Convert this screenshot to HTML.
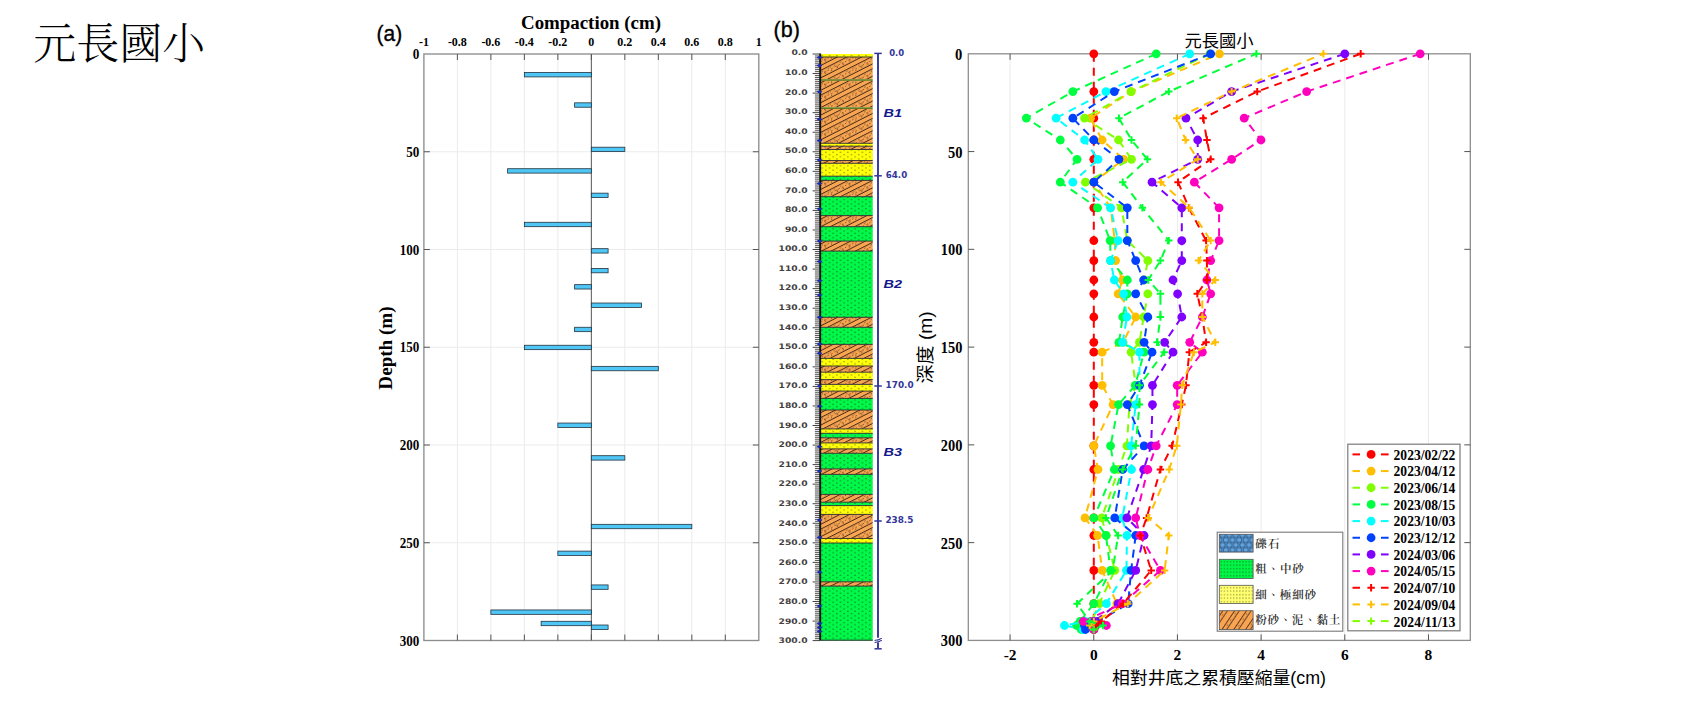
<!DOCTYPE html>
<html><head><meta charset="utf-8"><title>元長國小</title>
<style>
html,body{margin:0;padding:0;background:#fff;width:1701px;height:720px;overflow:hidden}
svg{display:block}
</style></head><body>
<svg width="1701" height="720" viewBox="0 0 1701 720">
<defs>
<pattern id="pG" patternUnits="userSpaceOnUse" width="7.3" height="4.5" x="820.5" y="54">
 <rect width="7.3" height="4.5" fill="#00F848"/>
 <rect x="1.2" y="1.0" width="1.1" height="1.1" fill="#145a26"/>
 <rect x="4.85" y="3.25" width="1.1" height="1.1" fill="#145a26"/>
</pattern>
<pattern id="pY" patternUnits="userSpaceOnUse" width="7.3" height="4.5" x="820.5" y="54">
 <rect width="7.3" height="4.5" fill="#FFFF08"/>
 <rect x="1.2" y="1.0" width="1.1" height="1.1" fill="#6a6a18"/>
 <rect x="4.85" y="3.25" width="1.1" height="1.1" fill="#6a6a18"/>
</pattern>
<pattern id="pO" patternUnits="userSpaceOnUse" width="24.4" height="12.4" x="820.5" y="54" patternTransform="skewY(-27)">
 <rect width="24.4" height="12.4" fill="#F9A653"/>
 <line x1="0" y1="0.6" x2="24.4" y2="0.6" stroke="#3a2010" stroke-width="1"/>
 <line x1="0" y1="8.0" x2="24.4" y2="8.0" stroke="#3a2010" stroke-width="1"/>
 <g fill="#4a2a14">
 <circle cx="2" cy="2.6" r="0.55"/><circle cx="8" cy="2.6" r="0.55"/><circle cx="14" cy="2.6" r="0.55"/><circle cx="20" cy="2.6" r="0.55"/>
 <circle cx="5" cy="5.8" r="0.55"/><circle cx="11" cy="5.8" r="0.55"/><circle cx="17" cy="5.8" r="0.55"/><circle cx="23" cy="5.8" r="0.55"/>
 </g>
 <path d="M4.2 3.2v2M5.4 3.2v2M16.2 3.6v2M17.4 3.6v2M10 1.6v1.6M22 4.2v1.6" stroke="#9a6034" stroke-width="0.6"/>
 <line x1="0" y1="4.3" x2="24.4" y2="4.3" stroke="#5a3418" stroke-width="0.7" stroke-dasharray="1.2 2.4"/>
</pattern>
<pattern id="pLO" patternUnits="userSpaceOnUse" width="20" height="9.8" x="1219" y="610" patternTransform="rotate(-56)">
 <rect width="20" height="9.8" fill="#F8A452"/>
 <line x1="0" y1="0.5" x2="20" y2="0.5" stroke="#3a2010" stroke-width="0.8"/>
 <line x1="0" y1="4.3" x2="20" y2="4.3" stroke="#3a2010" stroke-width="0.8"/>
 <circle cx="3" cy="2.4" r="0.5" fill="#4a2a14"/><circle cx="9" cy="2.4" r="0.5" fill="#4a2a14"/><circle cx="15" cy="2.4" r="0.5" fill="#4a2a14"/>
</pattern>
<pattern id="pLG" patternUnits="userSpaceOnUse" width="3.1" height="3.5" x="1219.8" y="560">
 <rect width="3.1" height="3.5" fill="#00F545"/>
 <rect x="1" y="1.2" width="0.95" height="0.95" fill="#134a1e"/>
</pattern>
<pattern id="pLY" patternUnits="userSpaceOnUse" width="3.1" height="3.5" x="1219.8" y="586">
 <rect width="3.1" height="3.5" fill="#FFFF70"/>
 <rect x="1" y="1.2" width="0.95" height="0.95" fill="#55551a"/>
</pattern>
<pattern id="pLB" patternUnits="userSpaceOnUse" width="6.6" height="10" x="1219.3" y="532.5">
 <rect width="6.6" height="10" fill="#5B9BD5"/>
 <g fill="#62a4de" stroke="#26466e" stroke-width="0.75">
 <circle cx="3.3" cy="2.5" r="2.6"/><circle cx="0" cy="7.5" r="2.6"/><circle cx="6.6" cy="7.5" r="2.6"/>
 <circle cx="3.3" cy="12.5" r="2.6"/><circle cx="0" cy="-2.5" r="2.6"/><circle cx="6.6" cy="-2.5" r="2.6"/>
 </g>
</pattern>
</defs>
<rect width="1701" height="720" fill="#fff"/>
<text x="33.3" y="59.0" font-family="'Liberation Serif', 'Noto Serif CJK TC', 'Noto Serif CJK SC', serif" font-weight="300" font-size="43">元長國小</text>
<line x1="457.39" y1="54.0" x2="457.39" y2="640.5" stroke="#ebebeb" stroke-width="1"/>
<line x1="490.88" y1="54.0" x2="490.88" y2="640.5" stroke="#ebebeb" stroke-width="1"/>
<line x1="524.37" y1="54.0" x2="524.37" y2="640.5" stroke="#ebebeb" stroke-width="1"/>
<line x1="557.86" y1="54.0" x2="557.86" y2="640.5" stroke="#ebebeb" stroke-width="1"/>
<line x1="591.35" y1="54.0" x2="591.35" y2="640.5" stroke="#ebebeb" stroke-width="1"/>
<line x1="624.84" y1="54.0" x2="624.84" y2="640.5" stroke="#ebebeb" stroke-width="1"/>
<line x1="658.33" y1="54.0" x2="658.33" y2="640.5" stroke="#ebebeb" stroke-width="1"/>
<line x1="691.82" y1="54.0" x2="691.82" y2="640.5" stroke="#ebebeb" stroke-width="1"/>
<line x1="725.31" y1="54.0" x2="725.31" y2="640.5" stroke="#ebebeb" stroke-width="1"/>
<line x1="423.9" y1="151.75" x2="758.8" y2="151.75" stroke="#ebebeb" stroke-width="1"/>
<line x1="423.9" y1="249.50" x2="758.8" y2="249.50" stroke="#ebebeb" stroke-width="1"/>
<line x1="423.9" y1="347.25" x2="758.8" y2="347.25" stroke="#ebebeb" stroke-width="1"/>
<line x1="423.9" y1="445.00" x2="758.8" y2="445.00" stroke="#ebebeb" stroke-width="1"/>
<line x1="423.9" y1="542.75" x2="758.8" y2="542.75" stroke="#ebebeb" stroke-width="1"/>
<line x1="591.35" y1="54.0" x2="591.35" y2="640.5" stroke="#5a5a5a" stroke-width="1"/>
<rect x="524.37" y="72.52" width="66.98" height="4.4" fill="#4EC6F6" stroke="#24323c" stroke-width="0.8"/>
<rect x="574.61" y="102.83" width="16.74" height="4.4" fill="#4EC6F6" stroke="#24323c" stroke-width="0.8"/>
<rect x="591.35" y="147.20" width="33.49" height="4.4" fill="#4EC6F6" stroke="#24323c" stroke-width="0.8"/>
<rect x="507.62" y="168.71" width="83.72" height="4.4" fill="#4EC6F6" stroke="#24323c" stroke-width="0.8"/>
<rect x="591.35" y="193.15" width="16.75" height="4.4" fill="#4EC6F6" stroke="#24323c" stroke-width="0.8"/>
<rect x="524.37" y="222.28" width="66.98" height="4.4" fill="#4EC6F6" stroke="#24323c" stroke-width="0.8"/>
<rect x="591.35" y="248.67" width="16.75" height="4.4" fill="#4EC6F6" stroke="#24323c" stroke-width="0.8"/>
<rect x="591.35" y="268.41" width="16.75" height="4.4" fill="#4EC6F6" stroke="#24323c" stroke-width="0.8"/>
<rect x="574.61" y="284.64" width="16.74" height="4.4" fill="#4EC6F6" stroke="#24323c" stroke-width="0.8"/>
<rect x="591.35" y="303.02" width="50.24" height="4.4" fill="#4EC6F6" stroke="#24323c" stroke-width="0.8"/>
<rect x="574.61" y="327.26" width="16.74" height="4.4" fill="#4EC6F6" stroke="#24323c" stroke-width="0.8"/>
<rect x="524.37" y="345.25" width="66.98" height="4.4" fill="#4EC6F6" stroke="#24323c" stroke-width="0.8"/>
<rect x="591.35" y="366.36" width="66.98" height="4.4" fill="#4EC6F6" stroke="#24323c" stroke-width="0.8"/>
<rect x="557.86" y="423.05" width="33.49" height="4.4" fill="#4EC6F6" stroke="#24323c" stroke-width="0.8"/>
<rect x="591.35" y="455.70" width="33.49" height="4.4" fill="#4EC6F6" stroke="#24323c" stroke-width="0.8"/>
<rect x="591.35" y="524.32" width="100.47" height="4.4" fill="#4EC6F6" stroke="#24323c" stroke-width="0.8"/>
<rect x="557.86" y="551.11" width="33.49" height="4.4" fill="#4EC6F6" stroke="#24323c" stroke-width="0.8"/>
<rect x="591.35" y="584.93" width="16.75" height="4.4" fill="#4EC6F6" stroke="#24323c" stroke-width="0.8"/>
<rect x="490.88" y="609.95" width="100.47" height="4.4" fill="#4EC6F6" stroke="#24323c" stroke-width="0.8"/>
<rect x="541.12" y="621.29" width="50.23" height="4.4" fill="#4EC6F6" stroke="#24323c" stroke-width="0.8"/>
<rect x="591.35" y="625.01" width="16.75" height="4.4" fill="#4EC6F6" stroke="#24323c" stroke-width="0.8"/>
<rect x="423.9" y="54.0" width="334.9" height="586.5" fill="none" stroke="#8e8e8e" stroke-width="1.35"/>
<line x1="457.39" y1="54.0" x2="457.39" y2="60.0" stroke="#555555" stroke-width="1"/>
<line x1="457.39" y1="640.5" x2="457.39" y2="634.5" stroke="#555555" stroke-width="1"/>
<line x1="490.88" y1="54.0" x2="490.88" y2="60.0" stroke="#555555" stroke-width="1"/>
<line x1="490.88" y1="640.5" x2="490.88" y2="634.5" stroke="#555555" stroke-width="1"/>
<line x1="524.37" y1="54.0" x2="524.37" y2="60.0" stroke="#555555" stroke-width="1"/>
<line x1="524.37" y1="640.5" x2="524.37" y2="634.5" stroke="#555555" stroke-width="1"/>
<line x1="557.86" y1="54.0" x2="557.86" y2="60.0" stroke="#555555" stroke-width="1"/>
<line x1="557.86" y1="640.5" x2="557.86" y2="634.5" stroke="#555555" stroke-width="1"/>
<line x1="591.35" y1="54.0" x2="591.35" y2="60.0" stroke="#555555" stroke-width="1"/>
<line x1="591.35" y1="640.5" x2="591.35" y2="634.5" stroke="#555555" stroke-width="1"/>
<line x1="624.84" y1="54.0" x2="624.84" y2="60.0" stroke="#555555" stroke-width="1"/>
<line x1="624.84" y1="640.5" x2="624.84" y2="634.5" stroke="#555555" stroke-width="1"/>
<line x1="658.33" y1="54.0" x2="658.33" y2="60.0" stroke="#555555" stroke-width="1"/>
<line x1="658.33" y1="640.5" x2="658.33" y2="634.5" stroke="#555555" stroke-width="1"/>
<line x1="691.82" y1="54.0" x2="691.82" y2="60.0" stroke="#555555" stroke-width="1"/>
<line x1="691.82" y1="640.5" x2="691.82" y2="634.5" stroke="#555555" stroke-width="1"/>
<line x1="725.31" y1="54.0" x2="725.31" y2="60.0" stroke="#555555" stroke-width="1"/>
<line x1="725.31" y1="640.5" x2="725.31" y2="634.5" stroke="#555555" stroke-width="1"/>
<line x1="423.9" y1="151.75" x2="429.9" y2="151.75" stroke="#555555" stroke-width="1"/>
<line x1="758.8" y1="151.75" x2="752.8" y2="151.75" stroke="#555555" stroke-width="1"/>
<line x1="423.9" y1="249.50" x2="429.9" y2="249.50" stroke="#555555" stroke-width="1"/>
<line x1="758.8" y1="249.50" x2="752.8" y2="249.50" stroke="#555555" stroke-width="1"/>
<line x1="423.9" y1="347.25" x2="429.9" y2="347.25" stroke="#555555" stroke-width="1"/>
<line x1="758.8" y1="347.25" x2="752.8" y2="347.25" stroke="#555555" stroke-width="1"/>
<line x1="423.9" y1="445.00" x2="429.9" y2="445.00" stroke="#555555" stroke-width="1"/>
<line x1="758.8" y1="445.00" x2="752.8" y2="445.00" stroke="#555555" stroke-width="1"/>
<line x1="423.9" y1="542.75" x2="429.9" y2="542.75" stroke="#555555" stroke-width="1"/>
<line x1="758.8" y1="542.75" x2="752.8" y2="542.75" stroke="#555555" stroke-width="1"/>
<text x="423.90" y="45.6" text-anchor="middle" font-family="'Liberation Serif', 'Times New Roman', serif" font-weight="bold" font-size="12">-1</text>
<text x="457.39" y="45.6" text-anchor="middle" font-family="'Liberation Serif', 'Times New Roman', serif" font-weight="bold" font-size="12">-0.8</text>
<text x="490.88" y="45.6" text-anchor="middle" font-family="'Liberation Serif', 'Times New Roman', serif" font-weight="bold" font-size="12">-0.6</text>
<text x="524.37" y="45.6" text-anchor="middle" font-family="'Liberation Serif', 'Times New Roman', serif" font-weight="bold" font-size="12">-0.4</text>
<text x="557.86" y="45.6" text-anchor="middle" font-family="'Liberation Serif', 'Times New Roman', serif" font-weight="bold" font-size="12">-0.2</text>
<text x="591.35" y="45.6" text-anchor="middle" font-family="'Liberation Serif', 'Times New Roman', serif" font-weight="bold" font-size="12">0</text>
<text x="624.84" y="45.6" text-anchor="middle" font-family="'Liberation Serif', 'Times New Roman', serif" font-weight="bold" font-size="12">0.2</text>
<text x="658.33" y="45.6" text-anchor="middle" font-family="'Liberation Serif', 'Times New Roman', serif" font-weight="bold" font-size="12">0.4</text>
<text x="691.82" y="45.6" text-anchor="middle" font-family="'Liberation Serif', 'Times New Roman', serif" font-weight="bold" font-size="12">0.6</text>
<text x="725.31" y="45.6" text-anchor="middle" font-family="'Liberation Serif', 'Times New Roman', serif" font-weight="bold" font-size="12">0.8</text>
<text x="758.80" y="45.6" text-anchor="middle" font-family="'Liberation Serif', 'Times New Roman', serif" font-weight="bold" font-size="12">1</text>
<text x="419.3" y="59.10" text-anchor="end" font-family="'Liberation Serif', 'Times New Roman', serif" font-weight="bold" font-size="13.8" textLength="6.6" lengthAdjust="spacingAndGlyphs">0</text>
<text x="419.3" y="156.85" text-anchor="end" font-family="'Liberation Serif', 'Times New Roman', serif" font-weight="bold" font-size="13.8" textLength="13.1" lengthAdjust="spacingAndGlyphs">50</text>
<text x="419.3" y="254.60" text-anchor="end" font-family="'Liberation Serif', 'Times New Roman', serif" font-weight="bold" font-size="13.8" textLength="19.6" lengthAdjust="spacingAndGlyphs">100</text>
<text x="419.3" y="352.35" text-anchor="end" font-family="'Liberation Serif', 'Times New Roman', serif" font-weight="bold" font-size="13.8" textLength="19.6" lengthAdjust="spacingAndGlyphs">150</text>
<text x="419.3" y="450.10" text-anchor="end" font-family="'Liberation Serif', 'Times New Roman', serif" font-weight="bold" font-size="13.8" textLength="19.6" lengthAdjust="spacingAndGlyphs">200</text>
<text x="419.3" y="547.85" text-anchor="end" font-family="'Liberation Serif', 'Times New Roman', serif" font-weight="bold" font-size="13.8" textLength="19.6" lengthAdjust="spacingAndGlyphs">250</text>
<text x="419.3" y="645.60" text-anchor="end" font-family="'Liberation Serif', 'Times New Roman', serif" font-weight="bold" font-size="13.8" textLength="19.6" lengthAdjust="spacingAndGlyphs">300</text>
<text x="591" y="28.9" text-anchor="middle" font-family="'Liberation Serif', 'Times New Roman', serif" font-weight="bold" font-size="18" textLength="140" lengthAdjust="spacingAndGlyphs">Compaction (cm)</text>
<text transform="translate(392.2,348) rotate(-90)" text-anchor="middle" font-family="'Liberation Serif', 'Times New Roman', serif" font-weight="bold" font-size="18" textLength="83.3" lengthAdjust="spacingAndGlyphs">Depth (m)</text>
<text x="376.6" y="40.7" font-family="'Liberation Sans', Arial, sans-serif" font-size="22" textLength="25.6" lengthAdjust="spacingAndGlyphs" stroke="#000" stroke-width="0.35">(a)</text>
<rect x="820.5" y="54.00" width="52.20" height="3.00" fill="url(#pY)"/>
<rect x="820.5" y="57.00" width="52.20" height="22.20" fill="url(#pO)"/>
<rect x="820.5" y="79.20" width="52.20" height="1.70" fill="#627d1f"/>
<rect x="820.5" y="80.90" width="52.20" height="26.40" fill="url(#pO)"/>
<rect x="820.5" y="107.30" width="52.20" height="1.70" fill="#627d1f"/>
<rect x="820.5" y="109.00" width="52.20" height="34.30" fill="url(#pO)"/>
<rect x="820.5" y="143.30" width="52.20" height="2.90" fill="url(#pY)"/>
<rect x="820.5" y="146.20" width="52.20" height="3.30" fill="url(#pO)"/>
<rect x="820.5" y="149.50" width="52.20" height="11.00" fill="url(#pY)"/>
<rect x="820.5" y="160.50" width="52.20" height="2.80" fill="url(#pO)"/>
<rect x="820.5" y="163.30" width="52.20" height="12.90" fill="url(#pY)"/>
<rect x="820.5" y="176.20" width="52.20" height="4.20" fill="url(#pG)"/>
<rect x="820.5" y="180.40" width="52.20" height="16.30" fill="url(#pO)"/>
<rect x="820.5" y="196.70" width="52.20" height="18.90" fill="url(#pG)"/>
<rect x="820.5" y="215.60" width="52.20" height="11.10" fill="url(#pO)"/>
<rect x="820.5" y="226.70" width="52.20" height="14.40" fill="url(#pG)"/>
<rect x="820.5" y="241.10" width="52.20" height="10.00" fill="url(#pO)"/>
<rect x="820.5" y="251.10" width="52.20" height="66.20" fill="url(#pG)"/>
<rect x="820.5" y="317.30" width="52.20" height="10.00" fill="url(#pO)"/>
<rect x="820.5" y="327.30" width="52.20" height="17.10" fill="url(#pG)"/>
<rect x="820.5" y="344.40" width="52.20" height="14.00" fill="url(#pO)"/>
<rect x="820.5" y="358.40" width="52.20" height="7.60" fill="url(#pY)"/>
<rect x="820.5" y="366.00" width="52.20" height="6.20" fill="url(#pO)"/>
<rect x="820.5" y="372.20" width="52.20" height="7.40" fill="url(#pY)"/>
<rect x="820.5" y="379.60" width="52.20" height="4.80" fill="url(#pO)"/>
<rect x="820.5" y="384.40" width="52.20" height="6.70" fill="url(#pY)"/>
<rect x="820.5" y="391.10" width="52.20" height="7.30" fill="url(#pO)"/>
<rect x="820.5" y="398.40" width="52.20" height="11.60" fill="url(#pG)"/>
<rect x="820.5" y="410.00" width="52.20" height="18.90" fill="url(#pO)"/>
<rect x="820.5" y="428.90" width="52.20" height="4.40" fill="url(#pY)"/>
<rect x="820.5" y="433.30" width="52.20" height="4.50" fill="url(#pG)"/>
<rect x="820.5" y="437.80" width="52.20" height="5.10" fill="url(#pO)"/>
<rect x="820.5" y="442.90" width="52.20" height="6.00" fill="url(#pY)"/>
<rect x="820.5" y="448.90" width="52.20" height="4.40" fill="url(#pO)"/>
<rect x="820.5" y="453.30" width="52.20" height="15.60" fill="url(#pG)"/>
<rect x="820.5" y="468.90" width="52.20" height="5.50" fill="url(#pO)"/>
<rect x="820.5" y="474.40" width="52.20" height="20.00" fill="url(#pG)"/>
<rect x="820.5" y="494.40" width="52.20" height="7.80" fill="url(#pO)"/>
<rect x="820.5" y="502.20" width="52.20" height="3.40" fill="url(#pG)"/>
<rect x="820.5" y="505.60" width="52.20" height="8.80" fill="url(#pY)"/>
<rect x="820.5" y="514.40" width="52.20" height="24.10" fill="url(#pO)"/>
<rect x="820.5" y="538.50" width="52.20" height="4.50" fill="url(#pY)"/>
<rect x="820.5" y="543.00" width="52.20" height="38.80" fill="url(#pG)"/>
<rect x="820.5" y="581.80" width="52.20" height="4.30" fill="url(#pO)"/>
<rect x="820.5" y="586.10" width="52.20" height="54.50" fill="url(#pG)"/>
<line x1="820.5" y1="57.00" x2="872.7" y2="57.00" stroke="#2a2a2a" stroke-width="0.9"/>
<line x1="820.5" y1="143.30" x2="872.7" y2="143.30" stroke="#2a2a2a" stroke-width="0.9"/>
<line x1="820.5" y1="146.20" x2="872.7" y2="146.20" stroke="#2a2a2a" stroke-width="0.9"/>
<line x1="820.5" y1="149.50" x2="872.7" y2="149.50" stroke="#2a2a2a" stroke-width="0.9"/>
<line x1="820.5" y1="160.50" x2="872.7" y2="160.50" stroke="#2a2a2a" stroke-width="0.9"/>
<line x1="820.5" y1="163.30" x2="872.7" y2="163.30" stroke="#2a2a2a" stroke-width="0.9"/>
<line x1="820.5" y1="176.20" x2="872.7" y2="176.20" stroke="#2a2a2a" stroke-width="0.9"/>
<line x1="820.5" y1="180.40" x2="872.7" y2="180.40" stroke="#2a2a2a" stroke-width="0.9"/>
<line x1="820.5" y1="196.70" x2="872.7" y2="196.70" stroke="#2a2a2a" stroke-width="0.9"/>
<line x1="820.5" y1="215.60" x2="872.7" y2="215.60" stroke="#2a2a2a" stroke-width="0.9"/>
<line x1="820.5" y1="226.70" x2="872.7" y2="226.70" stroke="#2a2a2a" stroke-width="0.9"/>
<line x1="820.5" y1="241.10" x2="872.7" y2="241.10" stroke="#2a2a2a" stroke-width="0.9"/>
<line x1="820.5" y1="251.10" x2="872.7" y2="251.10" stroke="#2a2a2a" stroke-width="0.9"/>
<line x1="820.5" y1="317.30" x2="872.7" y2="317.30" stroke="#2a2a2a" stroke-width="0.9"/>
<line x1="820.5" y1="327.30" x2="872.7" y2="327.30" stroke="#2a2a2a" stroke-width="0.9"/>
<line x1="820.5" y1="344.40" x2="872.7" y2="344.40" stroke="#2a2a2a" stroke-width="0.9"/>
<line x1="820.5" y1="358.40" x2="872.7" y2="358.40" stroke="#2a2a2a" stroke-width="0.9"/>
<line x1="820.5" y1="366.00" x2="872.7" y2="366.00" stroke="#2a2a2a" stroke-width="0.9"/>
<line x1="820.5" y1="372.20" x2="872.7" y2="372.20" stroke="#2a2a2a" stroke-width="0.9"/>
<line x1="820.5" y1="379.60" x2="872.7" y2="379.60" stroke="#2a2a2a" stroke-width="0.9"/>
<line x1="820.5" y1="384.40" x2="872.7" y2="384.40" stroke="#2a2a2a" stroke-width="0.9"/>
<line x1="820.5" y1="391.10" x2="872.7" y2="391.10" stroke="#2a2a2a" stroke-width="0.9"/>
<line x1="820.5" y1="398.40" x2="872.7" y2="398.40" stroke="#2a2a2a" stroke-width="0.9"/>
<line x1="820.5" y1="410.00" x2="872.7" y2="410.00" stroke="#2a2a2a" stroke-width="0.9"/>
<line x1="820.5" y1="428.90" x2="872.7" y2="428.90" stroke="#2a2a2a" stroke-width="0.9"/>
<line x1="820.5" y1="433.30" x2="872.7" y2="433.30" stroke="#2a2a2a" stroke-width="0.9"/>
<line x1="820.5" y1="437.80" x2="872.7" y2="437.80" stroke="#2a2a2a" stroke-width="0.9"/>
<line x1="820.5" y1="442.90" x2="872.7" y2="442.90" stroke="#2a2a2a" stroke-width="0.9"/>
<line x1="820.5" y1="448.90" x2="872.7" y2="448.90" stroke="#2a2a2a" stroke-width="0.9"/>
<line x1="820.5" y1="453.30" x2="872.7" y2="453.30" stroke="#2a2a2a" stroke-width="0.9"/>
<line x1="820.5" y1="468.90" x2="872.7" y2="468.90" stroke="#2a2a2a" stroke-width="0.9"/>
<line x1="820.5" y1="474.40" x2="872.7" y2="474.40" stroke="#2a2a2a" stroke-width="0.9"/>
<line x1="820.5" y1="494.40" x2="872.7" y2="494.40" stroke="#2a2a2a" stroke-width="0.9"/>
<line x1="820.5" y1="502.20" x2="872.7" y2="502.20" stroke="#2a2a2a" stroke-width="0.9"/>
<line x1="820.5" y1="505.60" x2="872.7" y2="505.60" stroke="#2a2a2a" stroke-width="0.9"/>
<line x1="820.5" y1="514.40" x2="872.7" y2="514.40" stroke="#2a2a2a" stroke-width="0.9"/>
<line x1="820.5" y1="538.50" x2="872.7" y2="538.50" stroke="#2a2a2a" stroke-width="0.9"/>
<line x1="820.5" y1="543.00" x2="872.7" y2="543.00" stroke="#2a2a2a" stroke-width="0.9"/>
<line x1="820.5" y1="581.80" x2="872.7" y2="581.80" stroke="#2a2a2a" stroke-width="0.9"/>
<line x1="820.5" y1="586.10" x2="872.7" y2="586.10" stroke="#2a2a2a" stroke-width="0.9"/>
<line x1="820.5" y1="640.2" x2="872.7" y2="640.2" stroke="#2a2a2a" stroke-width="1"/>
<line x1="812.6" y1="54.00" x2="820" y2="54.00" stroke="#444" stroke-width="1"/>
<line x1="814.9" y1="55.96" x2="820" y2="55.96" stroke="#5e5e5e" stroke-width="1.1"/>
<line x1="814.9" y1="57.91" x2="820" y2="57.91" stroke="#5e5e5e" stroke-width="1.1"/>
<line x1="814.9" y1="59.87" x2="820" y2="59.87" stroke="#5e5e5e" stroke-width="1.1"/>
<line x1="814.9" y1="61.82" x2="820" y2="61.82" stroke="#5e5e5e" stroke-width="1.1"/>
<line x1="814.9" y1="63.78" x2="820" y2="63.78" stroke="#5e5e5e" stroke-width="1.1"/>
<line x1="814.9" y1="65.73" x2="820" y2="65.73" stroke="#5e5e5e" stroke-width="1.1"/>
<line x1="814.9" y1="67.69" x2="820" y2="67.69" stroke="#5e5e5e" stroke-width="1.1"/>
<line x1="814.9" y1="69.64" x2="820" y2="69.64" stroke="#5e5e5e" stroke-width="1.1"/>
<line x1="814.9" y1="71.60" x2="820" y2="71.60" stroke="#5e5e5e" stroke-width="1.1"/>
<line x1="812.6" y1="73.55" x2="820" y2="73.55" stroke="#444" stroke-width="1"/>
<line x1="814.9" y1="75.51" x2="820" y2="75.51" stroke="#5e5e5e" stroke-width="1.1"/>
<line x1="814.9" y1="77.46" x2="820" y2="77.46" stroke="#5e5e5e" stroke-width="1.1"/>
<line x1="814.9" y1="79.42" x2="820" y2="79.42" stroke="#5e5e5e" stroke-width="1.1"/>
<line x1="814.9" y1="81.37" x2="820" y2="81.37" stroke="#5e5e5e" stroke-width="1.1"/>
<line x1="814.9" y1="83.33" x2="820" y2="83.33" stroke="#5e5e5e" stroke-width="1.1"/>
<line x1="814.9" y1="85.29" x2="820" y2="85.29" stroke="#5e5e5e" stroke-width="1.1"/>
<line x1="814.9" y1="87.24" x2="820" y2="87.24" stroke="#5e5e5e" stroke-width="1.1"/>
<line x1="814.9" y1="89.20" x2="820" y2="89.20" stroke="#5e5e5e" stroke-width="1.1"/>
<line x1="814.9" y1="91.15" x2="820" y2="91.15" stroke="#5e5e5e" stroke-width="1.1"/>
<line x1="812.6" y1="93.11" x2="820" y2="93.11" stroke="#444" stroke-width="1"/>
<line x1="814.9" y1="95.06" x2="820" y2="95.06" stroke="#5e5e5e" stroke-width="1.1"/>
<line x1="814.9" y1="97.02" x2="820" y2="97.02" stroke="#5e5e5e" stroke-width="1.1"/>
<line x1="814.9" y1="98.97" x2="820" y2="98.97" stroke="#5e5e5e" stroke-width="1.1"/>
<line x1="814.9" y1="100.93" x2="820" y2="100.93" stroke="#5e5e5e" stroke-width="1.1"/>
<line x1="814.9" y1="102.88" x2="820" y2="102.88" stroke="#5e5e5e" stroke-width="1.1"/>
<line x1="814.9" y1="104.84" x2="820" y2="104.84" stroke="#5e5e5e" stroke-width="1.1"/>
<line x1="814.9" y1="106.79" x2="820" y2="106.79" stroke="#5e5e5e" stroke-width="1.1"/>
<line x1="814.9" y1="108.75" x2="820" y2="108.75" stroke="#5e5e5e" stroke-width="1.1"/>
<line x1="814.9" y1="110.70" x2="820" y2="110.70" stroke="#5e5e5e" stroke-width="1.1"/>
<line x1="812.6" y1="112.66" x2="820" y2="112.66" stroke="#444" stroke-width="1"/>
<line x1="814.9" y1="114.62" x2="820" y2="114.62" stroke="#5e5e5e" stroke-width="1.1"/>
<line x1="814.9" y1="116.57" x2="820" y2="116.57" stroke="#5e5e5e" stroke-width="1.1"/>
<line x1="814.9" y1="118.53" x2="820" y2="118.53" stroke="#5e5e5e" stroke-width="1.1"/>
<line x1="814.9" y1="120.48" x2="820" y2="120.48" stroke="#5e5e5e" stroke-width="1.1"/>
<line x1="814.9" y1="122.44" x2="820" y2="122.44" stroke="#5e5e5e" stroke-width="1.1"/>
<line x1="814.9" y1="124.39" x2="820" y2="124.39" stroke="#5e5e5e" stroke-width="1.1"/>
<line x1="814.9" y1="126.35" x2="820" y2="126.35" stroke="#5e5e5e" stroke-width="1.1"/>
<line x1="814.9" y1="128.30" x2="820" y2="128.30" stroke="#5e5e5e" stroke-width="1.1"/>
<line x1="814.9" y1="130.26" x2="820" y2="130.26" stroke="#5e5e5e" stroke-width="1.1"/>
<line x1="812.6" y1="132.21" x2="820" y2="132.21" stroke="#444" stroke-width="1"/>
<line x1="814.9" y1="134.17" x2="820" y2="134.17" stroke="#5e5e5e" stroke-width="1.1"/>
<line x1="814.9" y1="136.12" x2="820" y2="136.12" stroke="#5e5e5e" stroke-width="1.1"/>
<line x1="814.9" y1="138.08" x2="820" y2="138.08" stroke="#5e5e5e" stroke-width="1.1"/>
<line x1="814.9" y1="140.03" x2="820" y2="140.03" stroke="#5e5e5e" stroke-width="1.1"/>
<line x1="814.9" y1="141.99" x2="820" y2="141.99" stroke="#5e5e5e" stroke-width="1.1"/>
<line x1="814.9" y1="143.95" x2="820" y2="143.95" stroke="#5e5e5e" stroke-width="1.1"/>
<line x1="814.9" y1="145.90" x2="820" y2="145.90" stroke="#5e5e5e" stroke-width="1.1"/>
<line x1="814.9" y1="147.86" x2="820" y2="147.86" stroke="#5e5e5e" stroke-width="1.1"/>
<line x1="814.9" y1="149.81" x2="820" y2="149.81" stroke="#5e5e5e" stroke-width="1.1"/>
<line x1="812.6" y1="151.77" x2="820" y2="151.77" stroke="#444" stroke-width="1"/>
<line x1="814.9" y1="153.72" x2="820" y2="153.72" stroke="#5e5e5e" stroke-width="1.1"/>
<line x1="814.9" y1="155.68" x2="820" y2="155.68" stroke="#5e5e5e" stroke-width="1.1"/>
<line x1="814.9" y1="157.63" x2="820" y2="157.63" stroke="#5e5e5e" stroke-width="1.1"/>
<line x1="814.9" y1="159.59" x2="820" y2="159.59" stroke="#5e5e5e" stroke-width="1.1"/>
<line x1="814.9" y1="161.54" x2="820" y2="161.54" stroke="#5e5e5e" stroke-width="1.1"/>
<line x1="814.9" y1="163.50" x2="820" y2="163.50" stroke="#5e5e5e" stroke-width="1.1"/>
<line x1="814.9" y1="165.45" x2="820" y2="165.45" stroke="#5e5e5e" stroke-width="1.1"/>
<line x1="814.9" y1="167.41" x2="820" y2="167.41" stroke="#5e5e5e" stroke-width="1.1"/>
<line x1="814.9" y1="169.36" x2="820" y2="169.36" stroke="#5e5e5e" stroke-width="1.1"/>
<line x1="812.6" y1="171.32" x2="820" y2="171.32" stroke="#444" stroke-width="1"/>
<line x1="814.9" y1="173.28" x2="820" y2="173.28" stroke="#5e5e5e" stroke-width="1.1"/>
<line x1="814.9" y1="175.23" x2="820" y2="175.23" stroke="#5e5e5e" stroke-width="1.1"/>
<line x1="814.9" y1="177.19" x2="820" y2="177.19" stroke="#5e5e5e" stroke-width="1.1"/>
<line x1="814.9" y1="179.14" x2="820" y2="179.14" stroke="#5e5e5e" stroke-width="1.1"/>
<line x1="814.9" y1="181.10" x2="820" y2="181.10" stroke="#5e5e5e" stroke-width="1.1"/>
<line x1="814.9" y1="183.05" x2="820" y2="183.05" stroke="#5e5e5e" stroke-width="1.1"/>
<line x1="814.9" y1="185.01" x2="820" y2="185.01" stroke="#5e5e5e" stroke-width="1.1"/>
<line x1="814.9" y1="186.96" x2="820" y2="186.96" stroke="#5e5e5e" stroke-width="1.1"/>
<line x1="814.9" y1="188.92" x2="820" y2="188.92" stroke="#5e5e5e" stroke-width="1.1"/>
<line x1="812.6" y1="190.87" x2="820" y2="190.87" stroke="#444" stroke-width="1"/>
<line x1="814.9" y1="192.83" x2="820" y2="192.83" stroke="#5e5e5e" stroke-width="1.1"/>
<line x1="814.9" y1="194.78" x2="820" y2="194.78" stroke="#5e5e5e" stroke-width="1.1"/>
<line x1="814.9" y1="196.74" x2="820" y2="196.74" stroke="#5e5e5e" stroke-width="1.1"/>
<line x1="814.9" y1="198.69" x2="820" y2="198.69" stroke="#5e5e5e" stroke-width="1.1"/>
<line x1="814.9" y1="200.65" x2="820" y2="200.65" stroke="#5e5e5e" stroke-width="1.1"/>
<line x1="814.9" y1="202.61" x2="820" y2="202.61" stroke="#5e5e5e" stroke-width="1.1"/>
<line x1="814.9" y1="204.56" x2="820" y2="204.56" stroke="#5e5e5e" stroke-width="1.1"/>
<line x1="814.9" y1="206.52" x2="820" y2="206.52" stroke="#5e5e5e" stroke-width="1.1"/>
<line x1="814.9" y1="208.47" x2="820" y2="208.47" stroke="#5e5e5e" stroke-width="1.1"/>
<line x1="812.6" y1="210.43" x2="820" y2="210.43" stroke="#444" stroke-width="1"/>
<line x1="814.9" y1="212.38" x2="820" y2="212.38" stroke="#5e5e5e" stroke-width="1.1"/>
<line x1="814.9" y1="214.34" x2="820" y2="214.34" stroke="#5e5e5e" stroke-width="1.1"/>
<line x1="814.9" y1="216.29" x2="820" y2="216.29" stroke="#5e5e5e" stroke-width="1.1"/>
<line x1="814.9" y1="218.25" x2="820" y2="218.25" stroke="#5e5e5e" stroke-width="1.1"/>
<line x1="814.9" y1="220.20" x2="820" y2="220.20" stroke="#5e5e5e" stroke-width="1.1"/>
<line x1="814.9" y1="222.16" x2="820" y2="222.16" stroke="#5e5e5e" stroke-width="1.1"/>
<line x1="814.9" y1="224.11" x2="820" y2="224.11" stroke="#5e5e5e" stroke-width="1.1"/>
<line x1="814.9" y1="226.07" x2="820" y2="226.07" stroke="#5e5e5e" stroke-width="1.1"/>
<line x1="814.9" y1="228.02" x2="820" y2="228.02" stroke="#5e5e5e" stroke-width="1.1"/>
<line x1="812.6" y1="229.98" x2="820" y2="229.98" stroke="#444" stroke-width="1"/>
<line x1="814.9" y1="231.94" x2="820" y2="231.94" stroke="#5e5e5e" stroke-width="1.1"/>
<line x1="814.9" y1="233.89" x2="820" y2="233.89" stroke="#5e5e5e" stroke-width="1.1"/>
<line x1="814.9" y1="235.85" x2="820" y2="235.85" stroke="#5e5e5e" stroke-width="1.1"/>
<line x1="814.9" y1="237.80" x2="820" y2="237.80" stroke="#5e5e5e" stroke-width="1.1"/>
<line x1="814.9" y1="239.76" x2="820" y2="239.76" stroke="#5e5e5e" stroke-width="1.1"/>
<line x1="814.9" y1="241.71" x2="820" y2="241.71" stroke="#5e5e5e" stroke-width="1.1"/>
<line x1="814.9" y1="243.67" x2="820" y2="243.67" stroke="#5e5e5e" stroke-width="1.1"/>
<line x1="814.9" y1="245.62" x2="820" y2="245.62" stroke="#5e5e5e" stroke-width="1.1"/>
<line x1="814.9" y1="247.58" x2="820" y2="247.58" stroke="#5e5e5e" stroke-width="1.1"/>
<line x1="812.6" y1="249.53" x2="820" y2="249.53" stroke="#444" stroke-width="1"/>
<line x1="814.9" y1="251.49" x2="820" y2="251.49" stroke="#5e5e5e" stroke-width="1.1"/>
<line x1="814.9" y1="253.44" x2="820" y2="253.44" stroke="#5e5e5e" stroke-width="1.1"/>
<line x1="814.9" y1="255.40" x2="820" y2="255.40" stroke="#5e5e5e" stroke-width="1.1"/>
<line x1="814.9" y1="257.35" x2="820" y2="257.35" stroke="#5e5e5e" stroke-width="1.1"/>
<line x1="814.9" y1="259.31" x2="820" y2="259.31" stroke="#5e5e5e" stroke-width="1.1"/>
<line x1="814.9" y1="261.27" x2="820" y2="261.27" stroke="#5e5e5e" stroke-width="1.1"/>
<line x1="814.9" y1="263.22" x2="820" y2="263.22" stroke="#5e5e5e" stroke-width="1.1"/>
<line x1="814.9" y1="265.18" x2="820" y2="265.18" stroke="#5e5e5e" stroke-width="1.1"/>
<line x1="814.9" y1="267.13" x2="820" y2="267.13" stroke="#5e5e5e" stroke-width="1.1"/>
<line x1="812.6" y1="269.09" x2="820" y2="269.09" stroke="#444" stroke-width="1"/>
<line x1="814.9" y1="271.04" x2="820" y2="271.04" stroke="#5e5e5e" stroke-width="1.1"/>
<line x1="814.9" y1="273.00" x2="820" y2="273.00" stroke="#5e5e5e" stroke-width="1.1"/>
<line x1="814.9" y1="274.95" x2="820" y2="274.95" stroke="#5e5e5e" stroke-width="1.1"/>
<line x1="814.9" y1="276.91" x2="820" y2="276.91" stroke="#5e5e5e" stroke-width="1.1"/>
<line x1="814.9" y1="278.86" x2="820" y2="278.86" stroke="#5e5e5e" stroke-width="1.1"/>
<line x1="814.9" y1="280.82" x2="820" y2="280.82" stroke="#5e5e5e" stroke-width="1.1"/>
<line x1="814.9" y1="282.77" x2="820" y2="282.77" stroke="#5e5e5e" stroke-width="1.1"/>
<line x1="814.9" y1="284.73" x2="820" y2="284.73" stroke="#5e5e5e" stroke-width="1.1"/>
<line x1="814.9" y1="286.68" x2="820" y2="286.68" stroke="#5e5e5e" stroke-width="1.1"/>
<line x1="812.6" y1="288.64" x2="820" y2="288.64" stroke="#444" stroke-width="1"/>
<line x1="814.9" y1="290.60" x2="820" y2="290.60" stroke="#5e5e5e" stroke-width="1.1"/>
<line x1="814.9" y1="292.55" x2="820" y2="292.55" stroke="#5e5e5e" stroke-width="1.1"/>
<line x1="814.9" y1="294.51" x2="820" y2="294.51" stroke="#5e5e5e" stroke-width="1.1"/>
<line x1="814.9" y1="296.46" x2="820" y2="296.46" stroke="#5e5e5e" stroke-width="1.1"/>
<line x1="814.9" y1="298.42" x2="820" y2="298.42" stroke="#5e5e5e" stroke-width="1.1"/>
<line x1="814.9" y1="300.37" x2="820" y2="300.37" stroke="#5e5e5e" stroke-width="1.1"/>
<line x1="814.9" y1="302.33" x2="820" y2="302.33" stroke="#5e5e5e" stroke-width="1.1"/>
<line x1="814.9" y1="304.28" x2="820" y2="304.28" stroke="#5e5e5e" stroke-width="1.1"/>
<line x1="814.9" y1="306.24" x2="820" y2="306.24" stroke="#5e5e5e" stroke-width="1.1"/>
<line x1="812.6" y1="308.19" x2="820" y2="308.19" stroke="#444" stroke-width="1"/>
<line x1="814.9" y1="310.15" x2="820" y2="310.15" stroke="#5e5e5e" stroke-width="1.1"/>
<line x1="814.9" y1="312.10" x2="820" y2="312.10" stroke="#5e5e5e" stroke-width="1.1"/>
<line x1="814.9" y1="314.06" x2="820" y2="314.06" stroke="#5e5e5e" stroke-width="1.1"/>
<line x1="814.9" y1="316.01" x2="820" y2="316.01" stroke="#5e5e5e" stroke-width="1.1"/>
<line x1="814.9" y1="317.97" x2="820" y2="317.97" stroke="#5e5e5e" stroke-width="1.1"/>
<line x1="814.9" y1="319.93" x2="820" y2="319.93" stroke="#5e5e5e" stroke-width="1.1"/>
<line x1="814.9" y1="321.88" x2="820" y2="321.88" stroke="#5e5e5e" stroke-width="1.1"/>
<line x1="814.9" y1="323.84" x2="820" y2="323.84" stroke="#5e5e5e" stroke-width="1.1"/>
<line x1="814.9" y1="325.79" x2="820" y2="325.79" stroke="#5e5e5e" stroke-width="1.1"/>
<line x1="812.6" y1="327.75" x2="820" y2="327.75" stroke="#444" stroke-width="1"/>
<line x1="814.9" y1="329.70" x2="820" y2="329.70" stroke="#5e5e5e" stroke-width="1.1"/>
<line x1="814.9" y1="331.66" x2="820" y2="331.66" stroke="#5e5e5e" stroke-width="1.1"/>
<line x1="814.9" y1="333.61" x2="820" y2="333.61" stroke="#5e5e5e" stroke-width="1.1"/>
<line x1="814.9" y1="335.57" x2="820" y2="335.57" stroke="#5e5e5e" stroke-width="1.1"/>
<line x1="814.9" y1="337.52" x2="820" y2="337.52" stroke="#5e5e5e" stroke-width="1.1"/>
<line x1="814.9" y1="339.48" x2="820" y2="339.48" stroke="#5e5e5e" stroke-width="1.1"/>
<line x1="814.9" y1="341.43" x2="820" y2="341.43" stroke="#5e5e5e" stroke-width="1.1"/>
<line x1="814.9" y1="343.39" x2="820" y2="343.39" stroke="#5e5e5e" stroke-width="1.1"/>
<line x1="814.9" y1="345.34" x2="820" y2="345.34" stroke="#5e5e5e" stroke-width="1.1"/>
<line x1="812.6" y1="347.30" x2="820" y2="347.30" stroke="#444" stroke-width="1"/>
<line x1="814.9" y1="349.26" x2="820" y2="349.26" stroke="#5e5e5e" stroke-width="1.1"/>
<line x1="814.9" y1="351.21" x2="820" y2="351.21" stroke="#5e5e5e" stroke-width="1.1"/>
<line x1="814.9" y1="353.17" x2="820" y2="353.17" stroke="#5e5e5e" stroke-width="1.1"/>
<line x1="814.9" y1="355.12" x2="820" y2="355.12" stroke="#5e5e5e" stroke-width="1.1"/>
<line x1="814.9" y1="357.08" x2="820" y2="357.08" stroke="#5e5e5e" stroke-width="1.1"/>
<line x1="814.9" y1="359.03" x2="820" y2="359.03" stroke="#5e5e5e" stroke-width="1.1"/>
<line x1="814.9" y1="360.99" x2="820" y2="360.99" stroke="#5e5e5e" stroke-width="1.1"/>
<line x1="814.9" y1="362.94" x2="820" y2="362.94" stroke="#5e5e5e" stroke-width="1.1"/>
<line x1="814.9" y1="364.90" x2="820" y2="364.90" stroke="#5e5e5e" stroke-width="1.1"/>
<line x1="812.6" y1="366.85" x2="820" y2="366.85" stroke="#444" stroke-width="1"/>
<line x1="814.9" y1="368.81" x2="820" y2="368.81" stroke="#5e5e5e" stroke-width="1.1"/>
<line x1="814.9" y1="370.76" x2="820" y2="370.76" stroke="#5e5e5e" stroke-width="1.1"/>
<line x1="814.9" y1="372.72" x2="820" y2="372.72" stroke="#5e5e5e" stroke-width="1.1"/>
<line x1="814.9" y1="374.67" x2="820" y2="374.67" stroke="#5e5e5e" stroke-width="1.1"/>
<line x1="814.9" y1="376.63" x2="820" y2="376.63" stroke="#5e5e5e" stroke-width="1.1"/>
<line x1="814.9" y1="378.59" x2="820" y2="378.59" stroke="#5e5e5e" stroke-width="1.1"/>
<line x1="814.9" y1="380.54" x2="820" y2="380.54" stroke="#5e5e5e" stroke-width="1.1"/>
<line x1="814.9" y1="382.50" x2="820" y2="382.50" stroke="#5e5e5e" stroke-width="1.1"/>
<line x1="814.9" y1="384.45" x2="820" y2="384.45" stroke="#5e5e5e" stroke-width="1.1"/>
<line x1="812.6" y1="386.41" x2="820" y2="386.41" stroke="#444" stroke-width="1"/>
<line x1="814.9" y1="388.36" x2="820" y2="388.36" stroke="#5e5e5e" stroke-width="1.1"/>
<line x1="814.9" y1="390.32" x2="820" y2="390.32" stroke="#5e5e5e" stroke-width="1.1"/>
<line x1="814.9" y1="392.27" x2="820" y2="392.27" stroke="#5e5e5e" stroke-width="1.1"/>
<line x1="814.9" y1="394.23" x2="820" y2="394.23" stroke="#5e5e5e" stroke-width="1.1"/>
<line x1="814.9" y1="396.18" x2="820" y2="396.18" stroke="#5e5e5e" stroke-width="1.1"/>
<line x1="814.9" y1="398.14" x2="820" y2="398.14" stroke="#5e5e5e" stroke-width="1.1"/>
<line x1="814.9" y1="400.09" x2="820" y2="400.09" stroke="#5e5e5e" stroke-width="1.1"/>
<line x1="814.9" y1="402.05" x2="820" y2="402.05" stroke="#5e5e5e" stroke-width="1.1"/>
<line x1="814.9" y1="404.00" x2="820" y2="404.00" stroke="#5e5e5e" stroke-width="1.1"/>
<line x1="812.6" y1="405.96" x2="820" y2="405.96" stroke="#444" stroke-width="1"/>
<line x1="814.9" y1="407.92" x2="820" y2="407.92" stroke="#5e5e5e" stroke-width="1.1"/>
<line x1="814.9" y1="409.87" x2="820" y2="409.87" stroke="#5e5e5e" stroke-width="1.1"/>
<line x1="814.9" y1="411.83" x2="820" y2="411.83" stroke="#5e5e5e" stroke-width="1.1"/>
<line x1="814.9" y1="413.78" x2="820" y2="413.78" stroke="#5e5e5e" stroke-width="1.1"/>
<line x1="814.9" y1="415.74" x2="820" y2="415.74" stroke="#5e5e5e" stroke-width="1.1"/>
<line x1="814.9" y1="417.69" x2="820" y2="417.69" stroke="#5e5e5e" stroke-width="1.1"/>
<line x1="814.9" y1="419.65" x2="820" y2="419.65" stroke="#5e5e5e" stroke-width="1.1"/>
<line x1="814.9" y1="421.60" x2="820" y2="421.60" stroke="#5e5e5e" stroke-width="1.1"/>
<line x1="814.9" y1="423.56" x2="820" y2="423.56" stroke="#5e5e5e" stroke-width="1.1"/>
<line x1="812.6" y1="425.51" x2="820" y2="425.51" stroke="#444" stroke-width="1"/>
<line x1="814.9" y1="427.47" x2="820" y2="427.47" stroke="#5e5e5e" stroke-width="1.1"/>
<line x1="814.9" y1="429.42" x2="820" y2="429.42" stroke="#5e5e5e" stroke-width="1.1"/>
<line x1="814.9" y1="431.38" x2="820" y2="431.38" stroke="#5e5e5e" stroke-width="1.1"/>
<line x1="814.9" y1="433.33" x2="820" y2="433.33" stroke="#5e5e5e" stroke-width="1.1"/>
<line x1="814.9" y1="435.29" x2="820" y2="435.29" stroke="#5e5e5e" stroke-width="1.1"/>
<line x1="814.9" y1="437.25" x2="820" y2="437.25" stroke="#5e5e5e" stroke-width="1.1"/>
<line x1="814.9" y1="439.20" x2="820" y2="439.20" stroke="#5e5e5e" stroke-width="1.1"/>
<line x1="814.9" y1="441.16" x2="820" y2="441.16" stroke="#5e5e5e" stroke-width="1.1"/>
<line x1="814.9" y1="443.11" x2="820" y2="443.11" stroke="#5e5e5e" stroke-width="1.1"/>
<line x1="812.6" y1="445.07" x2="820" y2="445.07" stroke="#444" stroke-width="1"/>
<line x1="814.9" y1="447.02" x2="820" y2="447.02" stroke="#5e5e5e" stroke-width="1.1"/>
<line x1="814.9" y1="448.98" x2="820" y2="448.98" stroke="#5e5e5e" stroke-width="1.1"/>
<line x1="814.9" y1="450.93" x2="820" y2="450.93" stroke="#5e5e5e" stroke-width="1.1"/>
<line x1="814.9" y1="452.89" x2="820" y2="452.89" stroke="#5e5e5e" stroke-width="1.1"/>
<line x1="814.9" y1="454.84" x2="820" y2="454.84" stroke="#5e5e5e" stroke-width="1.1"/>
<line x1="814.9" y1="456.80" x2="820" y2="456.80" stroke="#5e5e5e" stroke-width="1.1"/>
<line x1="814.9" y1="458.75" x2="820" y2="458.75" stroke="#5e5e5e" stroke-width="1.1"/>
<line x1="814.9" y1="460.71" x2="820" y2="460.71" stroke="#5e5e5e" stroke-width="1.1"/>
<line x1="814.9" y1="462.66" x2="820" y2="462.66" stroke="#5e5e5e" stroke-width="1.1"/>
<line x1="812.6" y1="464.62" x2="820" y2="464.62" stroke="#444" stroke-width="1"/>
<line x1="814.9" y1="466.58" x2="820" y2="466.58" stroke="#5e5e5e" stroke-width="1.1"/>
<line x1="814.9" y1="468.53" x2="820" y2="468.53" stroke="#5e5e5e" stroke-width="1.1"/>
<line x1="814.9" y1="470.49" x2="820" y2="470.49" stroke="#5e5e5e" stroke-width="1.1"/>
<line x1="814.9" y1="472.44" x2="820" y2="472.44" stroke="#5e5e5e" stroke-width="1.1"/>
<line x1="814.9" y1="474.40" x2="820" y2="474.40" stroke="#5e5e5e" stroke-width="1.1"/>
<line x1="814.9" y1="476.35" x2="820" y2="476.35" stroke="#5e5e5e" stroke-width="1.1"/>
<line x1="814.9" y1="478.31" x2="820" y2="478.31" stroke="#5e5e5e" stroke-width="1.1"/>
<line x1="814.9" y1="480.26" x2="820" y2="480.26" stroke="#5e5e5e" stroke-width="1.1"/>
<line x1="814.9" y1="482.22" x2="820" y2="482.22" stroke="#5e5e5e" stroke-width="1.1"/>
<line x1="812.6" y1="484.17" x2="820" y2="484.17" stroke="#444" stroke-width="1"/>
<line x1="814.9" y1="486.13" x2="820" y2="486.13" stroke="#5e5e5e" stroke-width="1.1"/>
<line x1="814.9" y1="488.08" x2="820" y2="488.08" stroke="#5e5e5e" stroke-width="1.1"/>
<line x1="814.9" y1="490.04" x2="820" y2="490.04" stroke="#5e5e5e" stroke-width="1.1"/>
<line x1="814.9" y1="491.99" x2="820" y2="491.99" stroke="#5e5e5e" stroke-width="1.1"/>
<line x1="814.9" y1="493.95" x2="820" y2="493.95" stroke="#5e5e5e" stroke-width="1.1"/>
<line x1="814.9" y1="495.91" x2="820" y2="495.91" stroke="#5e5e5e" stroke-width="1.1"/>
<line x1="814.9" y1="497.86" x2="820" y2="497.86" stroke="#5e5e5e" stroke-width="1.1"/>
<line x1="814.9" y1="499.82" x2="820" y2="499.82" stroke="#5e5e5e" stroke-width="1.1"/>
<line x1="814.9" y1="501.77" x2="820" y2="501.77" stroke="#5e5e5e" stroke-width="1.1"/>
<line x1="812.6" y1="503.73" x2="820" y2="503.73" stroke="#444" stroke-width="1"/>
<line x1="814.9" y1="505.68" x2="820" y2="505.68" stroke="#5e5e5e" stroke-width="1.1"/>
<line x1="814.9" y1="507.64" x2="820" y2="507.64" stroke="#5e5e5e" stroke-width="1.1"/>
<line x1="814.9" y1="509.59" x2="820" y2="509.59" stroke="#5e5e5e" stroke-width="1.1"/>
<line x1="814.9" y1="511.55" x2="820" y2="511.55" stroke="#5e5e5e" stroke-width="1.1"/>
<line x1="814.9" y1="513.50" x2="820" y2="513.50" stroke="#5e5e5e" stroke-width="1.1"/>
<line x1="814.9" y1="515.46" x2="820" y2="515.46" stroke="#5e5e5e" stroke-width="1.1"/>
<line x1="814.9" y1="517.41" x2="820" y2="517.41" stroke="#5e5e5e" stroke-width="1.1"/>
<line x1="814.9" y1="519.37" x2="820" y2="519.37" stroke="#5e5e5e" stroke-width="1.1"/>
<line x1="814.9" y1="521.32" x2="820" y2="521.32" stroke="#5e5e5e" stroke-width="1.1"/>
<line x1="812.6" y1="523.28" x2="820" y2="523.28" stroke="#444" stroke-width="1"/>
<line x1="814.9" y1="525.24" x2="820" y2="525.24" stroke="#5e5e5e" stroke-width="1.1"/>
<line x1="814.9" y1="527.19" x2="820" y2="527.19" stroke="#5e5e5e" stroke-width="1.1"/>
<line x1="814.9" y1="529.15" x2="820" y2="529.15" stroke="#5e5e5e" stroke-width="1.1"/>
<line x1="814.9" y1="531.10" x2="820" y2="531.10" stroke="#5e5e5e" stroke-width="1.1"/>
<line x1="814.9" y1="533.06" x2="820" y2="533.06" stroke="#5e5e5e" stroke-width="1.1"/>
<line x1="814.9" y1="535.01" x2="820" y2="535.01" stroke="#5e5e5e" stroke-width="1.1"/>
<line x1="814.9" y1="536.97" x2="820" y2="536.97" stroke="#5e5e5e" stroke-width="1.1"/>
<line x1="814.9" y1="538.92" x2="820" y2="538.92" stroke="#5e5e5e" stroke-width="1.1"/>
<line x1="814.9" y1="540.88" x2="820" y2="540.88" stroke="#5e5e5e" stroke-width="1.1"/>
<line x1="812.6" y1="542.83" x2="820" y2="542.83" stroke="#444" stroke-width="1"/>
<line x1="814.9" y1="544.79" x2="820" y2="544.79" stroke="#5e5e5e" stroke-width="1.1"/>
<line x1="814.9" y1="546.74" x2="820" y2="546.74" stroke="#5e5e5e" stroke-width="1.1"/>
<line x1="814.9" y1="548.70" x2="820" y2="548.70" stroke="#5e5e5e" stroke-width="1.1"/>
<line x1="814.9" y1="550.65" x2="820" y2="550.65" stroke="#5e5e5e" stroke-width="1.1"/>
<line x1="814.9" y1="552.61" x2="820" y2="552.61" stroke="#5e5e5e" stroke-width="1.1"/>
<line x1="814.9" y1="554.57" x2="820" y2="554.57" stroke="#5e5e5e" stroke-width="1.1"/>
<line x1="814.9" y1="556.52" x2="820" y2="556.52" stroke="#5e5e5e" stroke-width="1.1"/>
<line x1="814.9" y1="558.48" x2="820" y2="558.48" stroke="#5e5e5e" stroke-width="1.1"/>
<line x1="814.9" y1="560.43" x2="820" y2="560.43" stroke="#5e5e5e" stroke-width="1.1"/>
<line x1="812.6" y1="562.39" x2="820" y2="562.39" stroke="#444" stroke-width="1"/>
<line x1="814.9" y1="564.34" x2="820" y2="564.34" stroke="#5e5e5e" stroke-width="1.1"/>
<line x1="814.9" y1="566.30" x2="820" y2="566.30" stroke="#5e5e5e" stroke-width="1.1"/>
<line x1="814.9" y1="568.25" x2="820" y2="568.25" stroke="#5e5e5e" stroke-width="1.1"/>
<line x1="814.9" y1="570.21" x2="820" y2="570.21" stroke="#5e5e5e" stroke-width="1.1"/>
<line x1="814.9" y1="572.16" x2="820" y2="572.16" stroke="#5e5e5e" stroke-width="1.1"/>
<line x1="814.9" y1="574.12" x2="820" y2="574.12" stroke="#5e5e5e" stroke-width="1.1"/>
<line x1="814.9" y1="576.07" x2="820" y2="576.07" stroke="#5e5e5e" stroke-width="1.1"/>
<line x1="814.9" y1="578.03" x2="820" y2="578.03" stroke="#5e5e5e" stroke-width="1.1"/>
<line x1="814.9" y1="579.98" x2="820" y2="579.98" stroke="#5e5e5e" stroke-width="1.1"/>
<line x1="812.6" y1="581.94" x2="820" y2="581.94" stroke="#444" stroke-width="1"/>
<line x1="814.9" y1="583.90" x2="820" y2="583.90" stroke="#5e5e5e" stroke-width="1.1"/>
<line x1="814.9" y1="585.85" x2="820" y2="585.85" stroke="#5e5e5e" stroke-width="1.1"/>
<line x1="814.9" y1="587.81" x2="820" y2="587.81" stroke="#5e5e5e" stroke-width="1.1"/>
<line x1="814.9" y1="589.76" x2="820" y2="589.76" stroke="#5e5e5e" stroke-width="1.1"/>
<line x1="814.9" y1="591.72" x2="820" y2="591.72" stroke="#5e5e5e" stroke-width="1.1"/>
<line x1="814.9" y1="593.67" x2="820" y2="593.67" stroke="#5e5e5e" stroke-width="1.1"/>
<line x1="814.9" y1="595.63" x2="820" y2="595.63" stroke="#5e5e5e" stroke-width="1.1"/>
<line x1="814.9" y1="597.58" x2="820" y2="597.58" stroke="#5e5e5e" stroke-width="1.1"/>
<line x1="814.9" y1="599.54" x2="820" y2="599.54" stroke="#5e5e5e" stroke-width="1.1"/>
<line x1="812.6" y1="601.49" x2="820" y2="601.49" stroke="#444" stroke-width="1"/>
<line x1="814.9" y1="603.45" x2="820" y2="603.45" stroke="#5e5e5e" stroke-width="1.1"/>
<line x1="814.9" y1="605.40" x2="820" y2="605.40" stroke="#5e5e5e" stroke-width="1.1"/>
<line x1="814.9" y1="607.36" x2="820" y2="607.36" stroke="#5e5e5e" stroke-width="1.1"/>
<line x1="814.9" y1="609.31" x2="820" y2="609.31" stroke="#5e5e5e" stroke-width="1.1"/>
<line x1="814.9" y1="611.27" x2="820" y2="611.27" stroke="#5e5e5e" stroke-width="1.1"/>
<line x1="814.9" y1="613.23" x2="820" y2="613.23" stroke="#5e5e5e" stroke-width="1.1"/>
<line x1="814.9" y1="615.18" x2="820" y2="615.18" stroke="#5e5e5e" stroke-width="1.1"/>
<line x1="814.9" y1="617.14" x2="820" y2="617.14" stroke="#5e5e5e" stroke-width="1.1"/>
<line x1="814.9" y1="619.09" x2="820" y2="619.09" stroke="#5e5e5e" stroke-width="1.1"/>
<line x1="812.6" y1="621.05" x2="820" y2="621.05" stroke="#444" stroke-width="1"/>
<line x1="814.9" y1="623.00" x2="820" y2="623.00" stroke="#5e5e5e" stroke-width="1.1"/>
<line x1="814.9" y1="624.96" x2="820" y2="624.96" stroke="#5e5e5e" stroke-width="1.1"/>
<line x1="814.9" y1="626.91" x2="820" y2="626.91" stroke="#5e5e5e" stroke-width="1.1"/>
<line x1="814.9" y1="628.87" x2="820" y2="628.87" stroke="#5e5e5e" stroke-width="1.1"/>
<line x1="814.9" y1="630.82" x2="820" y2="630.82" stroke="#5e5e5e" stroke-width="1.1"/>
<line x1="814.9" y1="632.78" x2="820" y2="632.78" stroke="#5e5e5e" stroke-width="1.1"/>
<line x1="814.9" y1="634.73" x2="820" y2="634.73" stroke="#5e5e5e" stroke-width="1.1"/>
<line x1="814.9" y1="636.69" x2="820" y2="636.69" stroke="#5e5e5e" stroke-width="1.1"/>
<line x1="814.9" y1="638.64" x2="820" y2="638.64" stroke="#5e5e5e" stroke-width="1.1"/>
<line x1="812.6" y1="640.60" x2="820" y2="640.60" stroke="#444" stroke-width="1"/>
<line x1="820.2" y1="53.5" x2="820.2" y2="640.6" stroke="#111" stroke-width="1.9"/>
<text x="807.6" y="55.40" text-anchor="end" font-family="'DejaVu Sans', Verdana, sans-serif" font-weight="bold" font-size="7.6" fill="#453f3f" textLength="16.2" lengthAdjust="spacingAndGlyphs">0.0</text>
<text x="807.6" y="74.99" text-anchor="end" font-family="'DejaVu Sans', Verdana, sans-serif" font-weight="bold" font-size="7.6" fill="#453f3f" textLength="22.6" lengthAdjust="spacingAndGlyphs">10.0</text>
<text x="807.6" y="94.58" text-anchor="end" font-family="'DejaVu Sans', Verdana, sans-serif" font-weight="bold" font-size="7.6" fill="#453f3f" textLength="22.6" lengthAdjust="spacingAndGlyphs">20.0</text>
<text x="807.6" y="114.17" text-anchor="end" font-family="'DejaVu Sans', Verdana, sans-serif" font-weight="bold" font-size="7.6" fill="#453f3f" textLength="22.6" lengthAdjust="spacingAndGlyphs">30.0</text>
<text x="807.6" y="133.76" text-anchor="end" font-family="'DejaVu Sans', Verdana, sans-serif" font-weight="bold" font-size="7.6" fill="#453f3f" textLength="22.6" lengthAdjust="spacingAndGlyphs">40.0</text>
<text x="807.6" y="153.35" text-anchor="end" font-family="'DejaVu Sans', Verdana, sans-serif" font-weight="bold" font-size="7.6" fill="#453f3f" textLength="22.6" lengthAdjust="spacingAndGlyphs">50.0</text>
<text x="807.6" y="172.94" text-anchor="end" font-family="'DejaVu Sans', Verdana, sans-serif" font-weight="bold" font-size="7.6" fill="#453f3f" textLength="22.6" lengthAdjust="spacingAndGlyphs">60.0</text>
<text x="807.6" y="192.53" text-anchor="end" font-family="'DejaVu Sans', Verdana, sans-serif" font-weight="bold" font-size="7.6" fill="#453f3f" textLength="22.6" lengthAdjust="spacingAndGlyphs">70.0</text>
<text x="807.6" y="212.12" text-anchor="end" font-family="'DejaVu Sans', Verdana, sans-serif" font-weight="bold" font-size="7.6" fill="#453f3f" textLength="22.6" lengthAdjust="spacingAndGlyphs">80.0</text>
<text x="807.6" y="231.71" text-anchor="end" font-family="'DejaVu Sans', Verdana, sans-serif" font-weight="bold" font-size="7.6" fill="#453f3f" textLength="22.6" lengthAdjust="spacingAndGlyphs">90.0</text>
<text x="807.6" y="251.30" text-anchor="end" font-family="'DejaVu Sans', Verdana, sans-serif" font-weight="bold" font-size="7.6" fill="#453f3f" textLength="29.0" lengthAdjust="spacingAndGlyphs">100.0</text>
<text x="807.6" y="270.89" text-anchor="end" font-family="'DejaVu Sans', Verdana, sans-serif" font-weight="bold" font-size="7.6" fill="#453f3f" textLength="29.0" lengthAdjust="spacingAndGlyphs">110.0</text>
<text x="807.6" y="290.48" text-anchor="end" font-family="'DejaVu Sans', Verdana, sans-serif" font-weight="bold" font-size="7.6" fill="#453f3f" textLength="29.0" lengthAdjust="spacingAndGlyphs">120.0</text>
<text x="807.6" y="310.07" text-anchor="end" font-family="'DejaVu Sans', Verdana, sans-serif" font-weight="bold" font-size="7.6" fill="#453f3f" textLength="29.0" lengthAdjust="spacingAndGlyphs">130.0</text>
<text x="807.6" y="329.66" text-anchor="end" font-family="'DejaVu Sans', Verdana, sans-serif" font-weight="bold" font-size="7.6" fill="#453f3f" textLength="29.0" lengthAdjust="spacingAndGlyphs">140.0</text>
<text x="807.6" y="349.25" text-anchor="end" font-family="'DejaVu Sans', Verdana, sans-serif" font-weight="bold" font-size="7.6" fill="#453f3f" textLength="29.0" lengthAdjust="spacingAndGlyphs">150.0</text>
<text x="807.6" y="368.84" text-anchor="end" font-family="'DejaVu Sans', Verdana, sans-serif" font-weight="bold" font-size="7.6" fill="#453f3f" textLength="29.0" lengthAdjust="spacingAndGlyphs">160.0</text>
<text x="807.6" y="388.43" text-anchor="end" font-family="'DejaVu Sans', Verdana, sans-serif" font-weight="bold" font-size="7.6" fill="#453f3f" textLength="29.0" lengthAdjust="spacingAndGlyphs">170.0</text>
<text x="807.6" y="408.02" text-anchor="end" font-family="'DejaVu Sans', Verdana, sans-serif" font-weight="bold" font-size="7.6" fill="#453f3f" textLength="29.0" lengthAdjust="spacingAndGlyphs">180.0</text>
<text x="807.6" y="427.61" text-anchor="end" font-family="'DejaVu Sans', Verdana, sans-serif" font-weight="bold" font-size="7.6" fill="#453f3f" textLength="29.0" lengthAdjust="spacingAndGlyphs">190.0</text>
<text x="807.6" y="447.20" text-anchor="end" font-family="'DejaVu Sans', Verdana, sans-serif" font-weight="bold" font-size="7.6" fill="#453f3f" textLength="29.0" lengthAdjust="spacingAndGlyphs">200.0</text>
<text x="807.6" y="466.79" text-anchor="end" font-family="'DejaVu Sans', Verdana, sans-serif" font-weight="bold" font-size="7.6" fill="#453f3f" textLength="29.0" lengthAdjust="spacingAndGlyphs">210.0</text>
<text x="807.6" y="486.38" text-anchor="end" font-family="'DejaVu Sans', Verdana, sans-serif" font-weight="bold" font-size="7.6" fill="#453f3f" textLength="29.0" lengthAdjust="spacingAndGlyphs">220.0</text>
<text x="807.6" y="505.97" text-anchor="end" font-family="'DejaVu Sans', Verdana, sans-serif" font-weight="bold" font-size="7.6" fill="#453f3f" textLength="29.0" lengthAdjust="spacingAndGlyphs">230.0</text>
<text x="807.6" y="525.56" text-anchor="end" font-family="'DejaVu Sans', Verdana, sans-serif" font-weight="bold" font-size="7.6" fill="#453f3f" textLength="29.0" lengthAdjust="spacingAndGlyphs">240.0</text>
<text x="807.6" y="545.15" text-anchor="end" font-family="'DejaVu Sans', Verdana, sans-serif" font-weight="bold" font-size="7.6" fill="#453f3f" textLength="29.0" lengthAdjust="spacingAndGlyphs">250.0</text>
<text x="807.6" y="564.74" text-anchor="end" font-family="'DejaVu Sans', Verdana, sans-serif" font-weight="bold" font-size="7.6" fill="#453f3f" textLength="29.0" lengthAdjust="spacingAndGlyphs">260.0</text>
<text x="807.6" y="584.33" text-anchor="end" font-family="'DejaVu Sans', Verdana, sans-serif" font-weight="bold" font-size="7.6" fill="#453f3f" textLength="29.0" lengthAdjust="spacingAndGlyphs">270.0</text>
<text x="807.6" y="603.92" text-anchor="end" font-family="'DejaVu Sans', Verdana, sans-serif" font-weight="bold" font-size="7.6" fill="#453f3f" textLength="29.0" lengthAdjust="spacingAndGlyphs">280.0</text>
<text x="807.6" y="623.51" text-anchor="end" font-family="'DejaVu Sans', Verdana, sans-serif" font-weight="bold" font-size="7.6" fill="#453f3f" textLength="29.0" lengthAdjust="spacingAndGlyphs">290.0</text>
<text x="807.6" y="643.10" text-anchor="end" font-family="'DejaVu Sans', Verdana, sans-serif" font-weight="bold" font-size="7.6" fill="#453f3f" textLength="29.0" lengthAdjust="spacingAndGlyphs">300.0</text>
<path d="M816.6 57.40 L819.6 55.50 L822.4 57.40 L819.6 59.30 Z" fill="#1a2aa8"/>
<path d="M816.6 65.50 L819.6 63.60 L822.4 65.50 L819.6 67.40 Z" fill="#1a2aa8"/>
<path d="M816.6 91.80 L819.6 89.90 L822.4 91.80 L819.6 93.70 Z" fill="#1a2aa8"/>
<path d="M816.6 119.20 L819.6 117.30 L822.4 119.20 L819.6 121.10 Z" fill="#1a2aa8"/>
<path d="M816.6 140.60 L819.6 138.70 L822.4 140.60 L819.6 142.50 Z" fill="#1a2aa8"/>
<path d="M816.6 160.00 L819.6 158.10 L822.4 160.00 L819.6 161.90 Z" fill="#1a2aa8"/>
<path d="M816.6 183.60 L819.6 181.70 L822.4 183.60 L819.6 185.50 Z" fill="#1a2aa8"/>
<path d="M816.6 208.90 L819.6 207.00 L822.4 208.90 L819.6 210.80 Z" fill="#1a2aa8"/>
<path d="M816.6 241.10 L819.6 239.20 L822.4 241.10 L819.6 243.00 Z" fill="#1a2aa8"/>
<path d="M816.6 261.40 L819.6 259.50 L822.4 261.40 L819.6 263.30 Z" fill="#1a2aa8"/>
<path d="M816.6 280.70 L819.6 278.80 L822.4 280.70 L819.6 282.60 Z" fill="#1a2aa8"/>
<path d="M816.6 295.10 L819.6 293.20 L822.4 295.10 L819.6 297.00 Z" fill="#1a2aa8"/>
<path d="M816.6 317.30 L819.6 315.40 L822.4 317.30 L819.6 319.20 Z" fill="#1a2aa8"/>
<path d="M816.6 344.00 L819.6 342.10 L822.4 344.00 L819.6 345.90 Z" fill="#1a2aa8"/>
<path d="M816.6 353.30 L819.6 351.40 L822.4 353.30 L819.6 355.20 Z" fill="#1a2aa8"/>
<path d="M816.6 386.20 L819.6 384.30 L822.4 386.20 L819.6 388.10 Z" fill="#1a2aa8"/>
<path d="M816.6 406.20 L819.6 404.30 L822.4 406.20 L819.6 408.10 Z" fill="#1a2aa8"/>
<path d="M816.6 446.70 L819.6 444.80 L822.4 446.70 L819.6 448.60 Z" fill="#1a2aa8"/>
<path d="M816.6 471.10 L819.6 469.20 L822.4 471.10 L819.6 473.00 Z" fill="#1a2aa8"/>
<path d="M816.6 520.00 L819.6 518.10 L822.4 520.00 L819.6 521.90 Z" fill="#1a2aa8"/>
<path d="M816.6 537.40 L819.6 535.50 L822.4 537.40 L819.6 539.30 Z" fill="#1a2aa8"/>
<path d="M816.6 572.20 L819.6 570.30 L822.4 572.20 L819.6 574.10 Z" fill="#1a2aa8"/>
<path d="M816.6 606.10 L819.6 604.20 L822.4 606.10 L819.6 608.00 Z" fill="#1a2aa8"/>
<path d="M816.6 623.60 L819.6 621.70 L822.4 623.60 L819.6 625.50 Z" fill="#1a2aa8"/>
<path d="M816.6 627.50 L819.6 625.60 L822.4 627.50 L819.6 629.40 Z" fill="#1a2aa8"/>
<path d="M816.6 631.40 L819.6 629.50 L822.4 631.40 L819.6 633.30 Z" fill="#1a2aa8"/>
<line x1="878.0" y1="53.4" x2="878.0" y2="637.8" stroke="#33359a" stroke-width="1.9"/>
<line x1="878.0" y1="642.5" x2="878.0" y2="648.8" stroke="#33359a" stroke-width="1.9"/>
<line x1="874.3" y1="53.4" x2="881.8" y2="53.4" stroke="#33359a" stroke-width="1.5"/>
<line x1="874.3" y1="175.8" x2="881.8" y2="175.8" stroke="#33359a" stroke-width="1.5"/>
<line x1="874.3" y1="386.0" x2="881.8" y2="386.0" stroke="#33359a" stroke-width="1.5"/>
<line x1="874.3" y1="521.0" x2="881.8" y2="521.0" stroke="#33359a" stroke-width="1.5"/>
<line x1="874.5" y1="648.8" x2="881.7" y2="648.8" stroke="#33359a" stroke-width="1.5"/>
<path d="M874.6 640.6 C876.5 639.4 877.5 640.6 879 639.6 S881 638.2 881.8 638.6 M874.6 642.6 C876.5 641.4 877.5 642.6 879 641.6 S881 640.2 881.8 640.6" fill="none" stroke="#33359a" stroke-width="1.2"/>
<text x="889.2" y="55.70" font-family="'DejaVu Sans', Verdana, sans-serif" font-weight="bold" font-size="8" fill="#33359a" textLength="15.0" lengthAdjust="spacingAndGlyphs">0.0</text>
<text x="885.8" y="178.10" font-family="'DejaVu Sans', Verdana, sans-serif" font-weight="bold" font-size="8" fill="#33359a" textLength="21.4" lengthAdjust="spacingAndGlyphs">64.0</text>
<text x="885.6" y="388.30" font-family="'DejaVu Sans', Verdana, sans-serif" font-weight="bold" font-size="8" fill="#33359a" textLength="28.0" lengthAdjust="spacingAndGlyphs">170.0</text>
<text x="885.4" y="523.30" font-family="'DejaVu Sans', Verdana, sans-serif" font-weight="bold" font-size="8" fill="#33359a" textLength="28.0" lengthAdjust="spacingAndGlyphs">238.5</text>
<text x="883.6" y="116.90" font-family="'Liberation Sans', Arial, sans-serif" font-weight="bold" font-style="italic" font-size="11" fill="#14188c" textLength="18.5" lengthAdjust="spacingAndGlyphs">B1</text>
<text x="883.6" y="287.90" font-family="'Liberation Sans', Arial, sans-serif" font-weight="bold" font-style="italic" font-size="11" fill="#14188c" textLength="18.5" lengthAdjust="spacingAndGlyphs">B2</text>
<text x="883.6" y="455.90" font-family="'Liberation Sans', Arial, sans-serif" font-weight="bold" font-style="italic" font-size="11" fill="#14188c" textLength="18.5" lengthAdjust="spacingAndGlyphs">B3</text>
<text x="773.6" y="37.0" font-family="'Liberation Sans', Arial, sans-serif" font-size="22" textLength="26.3" lengthAdjust="spacingAndGlyphs" stroke="#000" stroke-width="0.35">(b)</text>
<line x1="1010.07" y1="53.8" x2="1010.07" y2="640.4" stroke="#ebebeb" stroke-width="1"/>
<line x1="1093.75" y1="53.8" x2="1093.75" y2="640.4" stroke="#ebebeb" stroke-width="1"/>
<line x1="1177.43" y1="53.8" x2="1177.43" y2="640.4" stroke="#ebebeb" stroke-width="1"/>
<line x1="1261.11" y1="53.8" x2="1261.11" y2="640.4" stroke="#ebebeb" stroke-width="1"/>
<line x1="1344.79" y1="53.8" x2="1344.79" y2="640.4" stroke="#ebebeb" stroke-width="1"/>
<line x1="1428.47" y1="53.8" x2="1428.47" y2="640.4" stroke="#ebebeb" stroke-width="1"/>
<rect x="968.3" y="53.8" width="502.00" height="586.60" fill="none" stroke="#8e8e8e" stroke-width="1.3"/>
<line x1="1010.07" y1="53.8" x2="1010.07" y2="59.8" stroke="#555555" stroke-width="1"/>
<line x1="1010.07" y1="640.4" x2="1010.07" y2="634.4" stroke="#555555" stroke-width="1"/>
<text x="1010.07" y="659.9" text-anchor="middle" font-family="'Liberation Serif', 'Times New Roman', serif" font-weight="bold" font-size="15.4">-2</text>
<line x1="1093.75" y1="53.8" x2="1093.75" y2="59.8" stroke="#555555" stroke-width="1"/>
<line x1="1093.75" y1="640.4" x2="1093.75" y2="634.4" stroke="#555555" stroke-width="1"/>
<text x="1093.75" y="659.9" text-anchor="middle" font-family="'Liberation Serif', 'Times New Roman', serif" font-weight="bold" font-size="15.4">0</text>
<line x1="1177.43" y1="53.8" x2="1177.43" y2="59.8" stroke="#555555" stroke-width="1"/>
<line x1="1177.43" y1="640.4" x2="1177.43" y2="634.4" stroke="#555555" stroke-width="1"/>
<text x="1177.43" y="659.9" text-anchor="middle" font-family="'Liberation Serif', 'Times New Roman', serif" font-weight="bold" font-size="15.4">2</text>
<line x1="1261.11" y1="53.8" x2="1261.11" y2="59.8" stroke="#555555" stroke-width="1"/>
<line x1="1261.11" y1="640.4" x2="1261.11" y2="634.4" stroke="#555555" stroke-width="1"/>
<text x="1261.11" y="659.9" text-anchor="middle" font-family="'Liberation Serif', 'Times New Roman', serif" font-weight="bold" font-size="15.4">4</text>
<line x1="1344.79" y1="53.8" x2="1344.79" y2="59.8" stroke="#555555" stroke-width="1"/>
<line x1="1344.79" y1="640.4" x2="1344.79" y2="634.4" stroke="#555555" stroke-width="1"/>
<text x="1344.79" y="659.9" text-anchor="middle" font-family="'Liberation Serif', 'Times New Roman', serif" font-weight="bold" font-size="15.4">6</text>
<line x1="1428.47" y1="53.8" x2="1428.47" y2="59.8" stroke="#555555" stroke-width="1"/>
<line x1="1428.47" y1="640.4" x2="1428.47" y2="634.4" stroke="#555555" stroke-width="1"/>
<text x="1428.47" y="659.9" text-anchor="middle" font-family="'Liberation Serif', 'Times New Roman', serif" font-weight="bold" font-size="15.4">8</text>
<text x="962.4" y="59.80" text-anchor="end" font-family="'Liberation Serif', 'Times New Roman', serif" font-weight="bold" font-size="15.8" textLength="7.3" lengthAdjust="spacingAndGlyphs">0</text>
<line x1="968.3" y1="151.57" x2="974.3" y2="151.57" stroke="#555555" stroke-width="1"/>
<line x1="1470.3" y1="151.57" x2="1464.3" y2="151.57" stroke="#555555" stroke-width="1"/>
<text x="962.4" y="157.57" text-anchor="end" font-family="'Liberation Serif', 'Times New Roman', serif" font-weight="bold" font-size="15.8" textLength="14.5" lengthAdjust="spacingAndGlyphs">50</text>
<line x1="968.3" y1="249.33" x2="974.3" y2="249.33" stroke="#555555" stroke-width="1"/>
<line x1="1470.3" y1="249.33" x2="1464.3" y2="249.33" stroke="#555555" stroke-width="1"/>
<text x="962.4" y="255.33" text-anchor="end" font-family="'Liberation Serif', 'Times New Roman', serif" font-weight="bold" font-size="15.8" textLength="21.6" lengthAdjust="spacingAndGlyphs">100</text>
<line x1="968.3" y1="347.10" x2="974.3" y2="347.10" stroke="#555555" stroke-width="1"/>
<line x1="1470.3" y1="347.10" x2="1464.3" y2="347.10" stroke="#555555" stroke-width="1"/>
<text x="962.4" y="353.10" text-anchor="end" font-family="'Liberation Serif', 'Times New Roman', serif" font-weight="bold" font-size="15.8" textLength="21.6" lengthAdjust="spacingAndGlyphs">150</text>
<line x1="968.3" y1="444.87" x2="974.3" y2="444.87" stroke="#555555" stroke-width="1"/>
<line x1="1470.3" y1="444.87" x2="1464.3" y2="444.87" stroke="#555555" stroke-width="1"/>
<text x="962.4" y="450.87" text-anchor="end" font-family="'Liberation Serif', 'Times New Roman', serif" font-weight="bold" font-size="15.8" textLength="21.6" lengthAdjust="spacingAndGlyphs">200</text>
<line x1="968.3" y1="542.63" x2="974.3" y2="542.63" stroke="#555555" stroke-width="1"/>
<line x1="1470.3" y1="542.63" x2="1464.3" y2="542.63" stroke="#555555" stroke-width="1"/>
<text x="962.4" y="548.63" text-anchor="end" font-family="'Liberation Serif', 'Times New Roman', serif" font-weight="bold" font-size="15.8" textLength="21.6" lengthAdjust="spacingAndGlyphs">250</text>
<text x="962.4" y="646.40" text-anchor="end" font-family="'Liberation Serif', 'Times New Roman', serif" font-weight="bold" font-size="15.8" textLength="21.6" lengthAdjust="spacingAndGlyphs">300</text>
<polyline points="1093.80,53.80 1093.80,91.60 1093.80,118.20 1093.80,140.00 1093.80,159.30 1093.80,182.20 1093.80,207.80 1093.80,240.60 1093.80,260.60 1093.80,280.00 1093.80,293.80 1093.80,317.00 1093.80,342.30 1093.80,352.20 1093.80,385.30 1093.80,404.60 1093.80,445.80 1093.80,469.50 1093.80,517.90 1093.80,535.50 1093.80,570.40 1093.80,603.70 1093.80,621.50 1093.80,625.50 1093.80,629.50" fill="none" stroke="#FF0000" stroke-width="2" stroke-dasharray="8 6" stroke-dashoffset="0"/>
<circle cx="1093.80" cy="53.80" r="4.4" fill="#FF0000"/>
<circle cx="1093.80" cy="91.60" r="4.4" fill="#FF0000"/>
<circle cx="1093.80" cy="118.20" r="4.4" fill="#FF0000"/>
<circle cx="1093.80" cy="140.00" r="4.4" fill="#FF0000"/>
<circle cx="1093.80" cy="159.30" r="4.4" fill="#FF0000"/>
<circle cx="1093.80" cy="182.20" r="4.4" fill="#FF0000"/>
<circle cx="1093.80" cy="207.80" r="4.4" fill="#FF0000"/>
<circle cx="1093.80" cy="240.60" r="4.4" fill="#FF0000"/>
<circle cx="1093.80" cy="260.60" r="4.4" fill="#FF0000"/>
<circle cx="1093.80" cy="280.00" r="4.4" fill="#FF0000"/>
<circle cx="1093.80" cy="293.80" r="4.4" fill="#FF0000"/>
<circle cx="1093.80" cy="317.00" r="4.4" fill="#FF0000"/>
<circle cx="1093.80" cy="342.30" r="4.4" fill="#FF0000"/>
<circle cx="1093.80" cy="352.20" r="4.4" fill="#FF0000"/>
<circle cx="1093.80" cy="385.30" r="4.4" fill="#FF0000"/>
<circle cx="1093.80" cy="404.60" r="4.4" fill="#FF0000"/>
<circle cx="1093.80" cy="445.80" r="4.4" fill="#FF0000"/>
<circle cx="1093.80" cy="469.50" r="4.4" fill="#FF0000"/>
<circle cx="1093.80" cy="517.90" r="4.4" fill="#FF0000"/>
<circle cx="1093.80" cy="535.50" r="4.4" fill="#FF0000"/>
<circle cx="1093.80" cy="570.40" r="4.4" fill="#FF0000"/>
<circle cx="1093.80" cy="603.70" r="4.4" fill="#FF0000"/>
<circle cx="1093.80" cy="621.50" r="4.4" fill="#FF0000"/>
<circle cx="1093.80" cy="625.50" r="4.4" fill="#FF0000"/>
<circle cx="1093.80" cy="629.50" r="4.4" fill="#FF0000"/>
<polyline points="1219.50,53.80 1131.09,91.60 1090.45,118.20 1102.18,140.00 1123.55,159.30 1093.80,182.20 1110.56,207.80 1114.75,240.60 1115.59,260.60 1122.29,280.00 1118.10,293.80 1135.70,317.00 1123.13,342.30 1102.18,352.20 1102.18,385.30 1113.07,404.60 1093.80,445.80 1097.99,469.50 1085.00,517.90 1097.57,535.50 1102.18,570.40 1116.85,603.70 1095.89,621.50 1091.70,625.50 1093.80,629.50" fill="none" stroke="#FFBF00" stroke-width="2" stroke-dasharray="8 6" stroke-dashoffset="7"/>
<circle cx="1219.50" cy="53.80" r="4.4" fill="#FFBF00"/>
<circle cx="1131.09" cy="91.60" r="4.4" fill="#FFBF00"/>
<circle cx="1090.45" cy="118.20" r="4.4" fill="#FFBF00"/>
<circle cx="1102.18" cy="140.00" r="4.4" fill="#FFBF00"/>
<circle cx="1123.55" cy="159.30" r="4.4" fill="#FFBF00"/>
<circle cx="1093.80" cy="182.20" r="4.4" fill="#FFBF00"/>
<circle cx="1110.56" cy="207.80" r="4.4" fill="#FFBF00"/>
<circle cx="1114.75" cy="240.60" r="4.4" fill="#FFBF00"/>
<circle cx="1115.59" cy="260.60" r="4.4" fill="#FFBF00"/>
<circle cx="1122.29" cy="280.00" r="4.4" fill="#FFBF00"/>
<circle cx="1118.10" cy="293.80" r="4.4" fill="#FFBF00"/>
<circle cx="1135.70" cy="317.00" r="4.4" fill="#FFBF00"/>
<circle cx="1123.13" cy="342.30" r="4.4" fill="#FFBF00"/>
<circle cx="1102.18" cy="352.20" r="4.4" fill="#FFBF00"/>
<circle cx="1102.18" cy="385.30" r="4.4" fill="#FFBF00"/>
<circle cx="1113.07" cy="404.60" r="4.4" fill="#FFBF00"/>
<circle cx="1093.80" cy="445.80" r="4.4" fill="#FFBF00"/>
<circle cx="1097.99" cy="469.50" r="4.4" fill="#FFBF00"/>
<circle cx="1085.00" cy="517.90" r="4.4" fill="#FFBF00"/>
<circle cx="1097.57" cy="535.50" r="4.4" fill="#FFBF00"/>
<circle cx="1102.18" cy="570.40" r="4.4" fill="#FFBF00"/>
<circle cx="1116.85" cy="603.70" r="4.4" fill="#FFBF00"/>
<circle cx="1095.89" cy="621.50" r="4.4" fill="#FFBF00"/>
<circle cx="1091.70" cy="625.50" r="4.4" fill="#FFBF00"/>
<circle cx="1093.80" cy="629.50" r="4.4" fill="#FFBF00"/>
<polyline points="1209.86,53.80 1131.09,91.60 1084.58,118.20 1118.52,140.00 1131.51,159.30 1085.42,182.20 1121.45,207.80 1127.32,240.60 1147.85,260.60 1144.08,280.00 1147.85,293.80 1143.66,317.00 1139.47,342.30 1131.09,352.20 1135.70,385.30 1129.41,404.60 1126.90,445.80 1118.52,469.50 1101.76,517.90 1106.37,535.50 1114.75,570.40 1099.25,603.70 1091.70,621.50 1095.89,625.50 1093.80,629.50" fill="none" stroke="#80FF00" stroke-width="2" stroke-dasharray="8 6" stroke-dashoffset="0"/>
<circle cx="1209.86" cy="53.80" r="4.4" fill="#80FF00"/>
<circle cx="1131.09" cy="91.60" r="4.4" fill="#80FF00"/>
<circle cx="1084.58" cy="118.20" r="4.4" fill="#80FF00"/>
<circle cx="1118.52" cy="140.00" r="4.4" fill="#80FF00"/>
<circle cx="1131.51" cy="159.30" r="4.4" fill="#80FF00"/>
<circle cx="1085.42" cy="182.20" r="4.4" fill="#80FF00"/>
<circle cx="1121.45" cy="207.80" r="4.4" fill="#80FF00"/>
<circle cx="1127.32" cy="240.60" r="4.4" fill="#80FF00"/>
<circle cx="1147.85" cy="260.60" r="4.4" fill="#80FF00"/>
<circle cx="1144.08" cy="280.00" r="4.4" fill="#80FF00"/>
<circle cx="1147.85" cy="293.80" r="4.4" fill="#80FF00"/>
<circle cx="1143.66" cy="317.00" r="4.4" fill="#80FF00"/>
<circle cx="1139.47" cy="342.30" r="4.4" fill="#80FF00"/>
<circle cx="1131.09" cy="352.20" r="4.4" fill="#80FF00"/>
<circle cx="1135.70" cy="385.30" r="4.4" fill="#80FF00"/>
<circle cx="1129.41" cy="404.60" r="4.4" fill="#80FF00"/>
<circle cx="1126.90" cy="445.80" r="4.4" fill="#80FF00"/>
<circle cx="1118.52" cy="469.50" r="4.4" fill="#80FF00"/>
<circle cx="1101.76" cy="517.90" r="4.4" fill="#80FF00"/>
<circle cx="1106.37" cy="535.50" r="4.4" fill="#80FF00"/>
<circle cx="1114.75" cy="570.40" r="4.4" fill="#80FF00"/>
<circle cx="1099.25" cy="603.70" r="4.4" fill="#80FF00"/>
<circle cx="1091.70" cy="621.50" r="4.4" fill="#80FF00"/>
<circle cx="1095.89" cy="625.50" r="4.4" fill="#80FF00"/>
<circle cx="1093.80" cy="629.50" r="4.4" fill="#80FF00"/>
<polyline points="1156.23,53.80 1072.85,91.60 1026.34,118.20 1060.28,140.00 1077.04,159.30 1060.28,182.20 1097.57,207.80 1110.14,240.60 1110.56,260.60 1127.32,280.00 1127.32,293.80 1122.71,317.00 1118.94,342.30 1144.08,352.20 1135.28,385.30 1118.52,404.60 1110.56,445.80 1114.33,469.50 1093.80,517.90 1105.95,535.50 1110.56,570.40 1093.80,603.70 1079.97,621.50 1076.62,625.50 1081.23,629.50" fill="none" stroke="#00FF40" stroke-width="2" stroke-dasharray="8 6" stroke-dashoffset="0"/>
<circle cx="1156.23" cy="53.80" r="4.4" fill="#00FF40"/>
<circle cx="1072.85" cy="91.60" r="4.4" fill="#00FF40"/>
<circle cx="1026.34" cy="118.20" r="4.4" fill="#00FF40"/>
<circle cx="1060.28" cy="140.00" r="4.4" fill="#00FF40"/>
<circle cx="1077.04" cy="159.30" r="4.4" fill="#00FF40"/>
<circle cx="1060.28" cy="182.20" r="4.4" fill="#00FF40"/>
<circle cx="1097.57" cy="207.80" r="4.4" fill="#00FF40"/>
<circle cx="1110.14" cy="240.60" r="4.4" fill="#00FF40"/>
<circle cx="1110.56" cy="260.60" r="4.4" fill="#00FF40"/>
<circle cx="1127.32" cy="280.00" r="4.4" fill="#00FF40"/>
<circle cx="1127.32" cy="293.80" r="4.4" fill="#00FF40"/>
<circle cx="1122.71" cy="317.00" r="4.4" fill="#00FF40"/>
<circle cx="1118.94" cy="342.30" r="4.4" fill="#00FF40"/>
<circle cx="1144.08" cy="352.20" r="4.4" fill="#00FF40"/>
<circle cx="1135.28" cy="385.30" r="4.4" fill="#00FF40"/>
<circle cx="1118.52" cy="404.60" r="4.4" fill="#00FF40"/>
<circle cx="1110.56" cy="445.80" r="4.4" fill="#00FF40"/>
<circle cx="1114.33" cy="469.50" r="4.4" fill="#00FF40"/>
<circle cx="1093.80" cy="517.90" r="4.4" fill="#00FF40"/>
<circle cx="1105.95" cy="535.50" r="4.4" fill="#00FF40"/>
<circle cx="1110.56" cy="570.40" r="4.4" fill="#00FF40"/>
<circle cx="1093.80" cy="603.70" r="4.4" fill="#00FF40"/>
<circle cx="1079.97" cy="621.50" r="4.4" fill="#00FF40"/>
<circle cx="1076.62" cy="625.50" r="4.4" fill="#00FF40"/>
<circle cx="1081.23" cy="629.50" r="4.4" fill="#00FF40"/>
<polyline points="1189.75,53.80 1105.95,91.60 1056.09,118.20 1084.58,140.00 1097.99,159.30 1072.85,182.20 1110.56,207.80 1118.10,240.60 1110.56,260.60 1114.33,280.00 1123.55,293.80 1126.90,317.00 1122.71,342.30 1139.47,352.20 1139.47,385.30 1135.70,404.60 1131.09,445.80 1131.51,469.50 1122.29,517.90 1126.90,535.50 1126.48,570.40 1106.37,603.70 1085.42,621.50 1064.47,625.50 1083.33,629.50" fill="none" stroke="#00FFFF" stroke-width="2" stroke-dasharray="8 6" stroke-dashoffset="0"/>
<circle cx="1189.75" cy="53.80" r="4.4" fill="#00FFFF"/>
<circle cx="1105.95" cy="91.60" r="4.4" fill="#00FFFF"/>
<circle cx="1056.09" cy="118.20" r="4.4" fill="#00FFFF"/>
<circle cx="1084.58" cy="140.00" r="4.4" fill="#00FFFF"/>
<circle cx="1097.99" cy="159.30" r="4.4" fill="#00FFFF"/>
<circle cx="1072.85" cy="182.20" r="4.4" fill="#00FFFF"/>
<circle cx="1110.56" cy="207.80" r="4.4" fill="#00FFFF"/>
<circle cx="1118.10" cy="240.60" r="4.4" fill="#00FFFF"/>
<circle cx="1110.56" cy="260.60" r="4.4" fill="#00FFFF"/>
<circle cx="1114.33" cy="280.00" r="4.4" fill="#00FFFF"/>
<circle cx="1123.55" cy="293.80" r="4.4" fill="#00FFFF"/>
<circle cx="1126.90" cy="317.00" r="4.4" fill="#00FFFF"/>
<circle cx="1122.71" cy="342.30" r="4.4" fill="#00FFFF"/>
<circle cx="1139.47" cy="352.20" r="4.4" fill="#00FFFF"/>
<circle cx="1139.47" cy="385.30" r="4.4" fill="#00FFFF"/>
<circle cx="1135.70" cy="404.60" r="4.4" fill="#00FFFF"/>
<circle cx="1131.09" cy="445.80" r="4.4" fill="#00FFFF"/>
<circle cx="1131.51" cy="469.50" r="4.4" fill="#00FFFF"/>
<circle cx="1122.29" cy="517.90" r="4.4" fill="#00FFFF"/>
<circle cx="1126.90" cy="535.50" r="4.4" fill="#00FFFF"/>
<circle cx="1126.48" cy="570.40" r="4.4" fill="#00FFFF"/>
<circle cx="1106.37" cy="603.70" r="4.4" fill="#00FFFF"/>
<circle cx="1085.42" cy="621.50" r="4.4" fill="#00FFFF"/>
<circle cx="1064.47" cy="625.50" r="4.4" fill="#00FFFF"/>
<circle cx="1083.33" cy="629.50" r="4.4" fill="#00FFFF"/>
<polyline points="1210.70,53.80 1114.33,91.60 1072.85,118.20 1093.80,140.00 1118.94,159.30 1093.80,182.20 1127.32,207.80 1127.32,240.60 1135.70,260.60 1143.66,280.00 1135.70,293.80 1147.85,317.00 1144.08,342.30 1152.04,352.20 1139.47,385.30 1127.32,404.60 1144.08,445.80 1122.71,469.50 1114.75,517.90 1135.70,535.50 1131.09,570.40 1128.16,603.70 1097.99,621.50 1084.58,625.50 1085.42,629.50" fill="none" stroke="#0040FF" stroke-width="2" stroke-dasharray="8 6" stroke-dashoffset="0"/>
<circle cx="1210.70" cy="53.80" r="4.4" fill="#0040FF"/>
<circle cx="1114.33" cy="91.60" r="4.4" fill="#0040FF"/>
<circle cx="1072.85" cy="118.20" r="4.4" fill="#0040FF"/>
<circle cx="1093.80" cy="140.00" r="4.4" fill="#0040FF"/>
<circle cx="1118.94" cy="159.30" r="4.4" fill="#0040FF"/>
<circle cx="1093.80" cy="182.20" r="4.4" fill="#0040FF"/>
<circle cx="1127.32" cy="207.80" r="4.4" fill="#0040FF"/>
<circle cx="1127.32" cy="240.60" r="4.4" fill="#0040FF"/>
<circle cx="1135.70" cy="260.60" r="4.4" fill="#0040FF"/>
<circle cx="1143.66" cy="280.00" r="4.4" fill="#0040FF"/>
<circle cx="1135.70" cy="293.80" r="4.4" fill="#0040FF"/>
<circle cx="1147.85" cy="317.00" r="4.4" fill="#0040FF"/>
<circle cx="1144.08" cy="342.30" r="4.4" fill="#0040FF"/>
<circle cx="1152.04" cy="352.20" r="4.4" fill="#0040FF"/>
<circle cx="1139.47" cy="385.30" r="4.4" fill="#0040FF"/>
<circle cx="1127.32" cy="404.60" r="4.4" fill="#0040FF"/>
<circle cx="1144.08" cy="445.80" r="4.4" fill="#0040FF"/>
<circle cx="1122.71" cy="469.50" r="4.4" fill="#0040FF"/>
<circle cx="1114.75" cy="517.90" r="4.4" fill="#0040FF"/>
<circle cx="1135.70" cy="535.50" r="4.4" fill="#0040FF"/>
<circle cx="1131.09" cy="570.40" r="4.4" fill="#0040FF"/>
<circle cx="1128.16" cy="603.70" r="4.4" fill="#0040FF"/>
<circle cx="1097.99" cy="621.50" r="4.4" fill="#0040FF"/>
<circle cx="1084.58" cy="625.50" r="4.4" fill="#0040FF"/>
<circle cx="1085.42" cy="629.50" r="4.4" fill="#0040FF"/>
<polyline points="1344.78,53.80 1231.65,91.60 1185.98,118.20 1197.71,140.00 1197.71,159.30 1152.04,182.20 1181.79,207.80 1181.79,240.60 1181.79,260.60 1172.99,280.00 1177.60,293.80 1181.79,317.00 1164.61,342.30 1172.99,352.20 1152.46,385.30 1152.46,404.60 1151.20,445.80 1143.66,469.50 1126.90,517.90 1144.08,535.50 1135.70,570.40 1118.10,603.70 1093.80,621.50 1095.89,625.50 1093.80,629.50" fill="none" stroke="#8000FF" stroke-width="2" stroke-dasharray="8 6" stroke-dashoffset="0"/>
<circle cx="1344.78" cy="53.80" r="4.4" fill="#8000FF"/>
<circle cx="1231.65" cy="91.60" r="4.4" fill="#8000FF"/>
<circle cx="1185.98" cy="118.20" r="4.4" fill="#8000FF"/>
<circle cx="1197.71" cy="140.00" r="4.4" fill="#8000FF"/>
<circle cx="1197.71" cy="159.30" r="4.4" fill="#8000FF"/>
<circle cx="1152.04" cy="182.20" r="4.4" fill="#8000FF"/>
<circle cx="1181.79" cy="207.80" r="4.4" fill="#8000FF"/>
<circle cx="1181.79" cy="240.60" r="4.4" fill="#8000FF"/>
<circle cx="1181.79" cy="260.60" r="4.4" fill="#8000FF"/>
<circle cx="1172.99" cy="280.00" r="4.4" fill="#8000FF"/>
<circle cx="1177.60" cy="293.80" r="4.4" fill="#8000FF"/>
<circle cx="1181.79" cy="317.00" r="4.4" fill="#8000FF"/>
<circle cx="1164.61" cy="342.30" r="4.4" fill="#8000FF"/>
<circle cx="1172.99" cy="352.20" r="4.4" fill="#8000FF"/>
<circle cx="1152.46" cy="385.30" r="4.4" fill="#8000FF"/>
<circle cx="1152.46" cy="404.60" r="4.4" fill="#8000FF"/>
<circle cx="1151.20" cy="445.80" r="4.4" fill="#8000FF"/>
<circle cx="1143.66" cy="469.50" r="4.4" fill="#8000FF"/>
<circle cx="1126.90" cy="517.90" r="4.4" fill="#8000FF"/>
<circle cx="1144.08" cy="535.50" r="4.4" fill="#8000FF"/>
<circle cx="1135.70" cy="570.40" r="4.4" fill="#8000FF"/>
<circle cx="1118.10" cy="603.70" r="4.4" fill="#8000FF"/>
<circle cx="1093.80" cy="621.50" r="4.4" fill="#8000FF"/>
<circle cx="1095.89" cy="625.50" r="4.4" fill="#8000FF"/>
<circle cx="1093.80" cy="629.50" r="4.4" fill="#8000FF"/>
<polyline points="1420.20,53.80 1306.65,91.60 1244.22,118.20 1260.98,140.00 1231.65,159.30 1194.36,182.20 1219.08,207.80 1219.08,240.60 1210.70,260.60 1206.93,280.00 1210.70,293.80 1202.32,317.00 1189.75,342.30 1202.32,352.20 1177.18,385.30 1177.18,404.60 1156.23,445.80 1147.85,469.50 1135.70,517.90 1139.89,535.50 1160.42,570.40 1122.29,603.70 1083.33,621.50 1106.37,625.50 1093.80,629.50" fill="none" stroke="#FF00BF" stroke-width="2" stroke-dasharray="8 6" stroke-dashoffset="0"/>
<circle cx="1420.20" cy="53.80" r="4.4" fill="#FF00BF"/>
<circle cx="1306.65" cy="91.60" r="4.4" fill="#FF00BF"/>
<circle cx="1244.22" cy="118.20" r="4.4" fill="#FF00BF"/>
<circle cx="1260.98" cy="140.00" r="4.4" fill="#FF00BF"/>
<circle cx="1231.65" cy="159.30" r="4.4" fill="#FF00BF"/>
<circle cx="1194.36" cy="182.20" r="4.4" fill="#FF00BF"/>
<circle cx="1219.08" cy="207.80" r="4.4" fill="#FF00BF"/>
<circle cx="1219.08" cy="240.60" r="4.4" fill="#FF00BF"/>
<circle cx="1210.70" cy="260.60" r="4.4" fill="#FF00BF"/>
<circle cx="1206.93" cy="280.00" r="4.4" fill="#FF00BF"/>
<circle cx="1210.70" cy="293.80" r="4.4" fill="#FF00BF"/>
<circle cx="1202.32" cy="317.00" r="4.4" fill="#FF00BF"/>
<circle cx="1189.75" cy="342.30" r="4.4" fill="#FF00BF"/>
<circle cx="1202.32" cy="352.20" r="4.4" fill="#FF00BF"/>
<circle cx="1177.18" cy="385.30" r="4.4" fill="#FF00BF"/>
<circle cx="1177.18" cy="404.60" r="4.4" fill="#FF00BF"/>
<circle cx="1156.23" cy="445.80" r="4.4" fill="#FF00BF"/>
<circle cx="1147.85" cy="469.50" r="4.4" fill="#FF00BF"/>
<circle cx="1135.70" cy="517.90" r="4.4" fill="#FF00BF"/>
<circle cx="1139.89" cy="535.50" r="4.4" fill="#FF00BF"/>
<circle cx="1160.42" cy="570.40" r="4.4" fill="#FF00BF"/>
<circle cx="1122.29" cy="603.70" r="4.4" fill="#FF00BF"/>
<circle cx="1083.33" cy="621.50" r="4.4" fill="#FF00BF"/>
<circle cx="1106.37" cy="625.50" r="4.4" fill="#FF00BF"/>
<circle cx="1093.80" cy="629.50" r="4.4" fill="#FF00BF"/>
<polyline points="1360.70,53.80 1257.21,91.60 1203.16,118.20 1206.93,140.00 1210.70,159.30 1178.02,182.20 1188.91,207.80 1206.09,240.60 1206.93,260.60 1206.93,280.00 1197.29,293.80 1202.32,317.00 1206.09,342.30 1189.33,352.20 1185.98,385.30 1181.79,404.60 1172.15,445.80 1160.42,469.50 1146.59,517.90 1140.31,535.50 1151.20,570.40 1123.13,603.70 1101.34,621.50 1095.89,625.50 1093.80,629.50" fill="none" stroke="#FF0000" stroke-width="2" stroke-dasharray="8 6" stroke-dashoffset="0"/>
<path d="M1357.00 53.80H1364.40M1360.70 50.10V57.50" stroke="#FF0000" stroke-width="2" fill="none"/>
<path d="M1253.51 91.60H1260.91M1257.21 87.90V95.30" stroke="#FF0000" stroke-width="2" fill="none"/>
<path d="M1199.46 118.20H1206.86M1203.16 114.50V121.90" stroke="#FF0000" stroke-width="2" fill="none"/>
<path d="M1203.23 140.00H1210.63M1206.93 136.30V143.70" stroke="#FF0000" stroke-width="2" fill="none"/>
<path d="M1207.00 159.30H1214.40M1210.70 155.60V163.00" stroke="#FF0000" stroke-width="2" fill="none"/>
<path d="M1174.32 182.20H1181.72M1178.02 178.50V185.90" stroke="#FF0000" stroke-width="2" fill="none"/>
<path d="M1185.21 207.80H1192.61M1188.91 204.10V211.50" stroke="#FF0000" stroke-width="2" fill="none"/>
<path d="M1202.39 240.60H1209.79M1206.09 236.90V244.30" stroke="#FF0000" stroke-width="2" fill="none"/>
<path d="M1203.23 260.60H1210.63M1206.93 256.90V264.30" stroke="#FF0000" stroke-width="2" fill="none"/>
<path d="M1203.23 280.00H1210.63M1206.93 276.30V283.70" stroke="#FF0000" stroke-width="2" fill="none"/>
<path d="M1193.59 293.80H1200.99M1197.29 290.10V297.50" stroke="#FF0000" stroke-width="2" fill="none"/>
<path d="M1198.62 317.00H1206.02M1202.32 313.30V320.70" stroke="#FF0000" stroke-width="2" fill="none"/>
<path d="M1202.39 342.30H1209.79M1206.09 338.60V346.00" stroke="#FF0000" stroke-width="2" fill="none"/>
<path d="M1185.63 352.20H1193.03M1189.33 348.50V355.90" stroke="#FF0000" stroke-width="2" fill="none"/>
<path d="M1182.28 385.30H1189.68M1185.98 381.60V389.00" stroke="#FF0000" stroke-width="2" fill="none"/>
<path d="M1178.09 404.60H1185.49M1181.79 400.90V408.30" stroke="#FF0000" stroke-width="2" fill="none"/>
<path d="M1168.45 445.80H1175.85M1172.15 442.10V449.50" stroke="#FF0000" stroke-width="2" fill="none"/>
<path d="M1156.72 469.50H1164.12M1160.42 465.80V473.20" stroke="#FF0000" stroke-width="2" fill="none"/>
<path d="M1142.89 517.90H1150.29M1146.59 514.20V521.60" stroke="#FF0000" stroke-width="2" fill="none"/>
<path d="M1136.61 535.50H1144.01M1140.31 531.80V539.20" stroke="#FF0000" stroke-width="2" fill="none"/>
<path d="M1147.50 570.40H1154.90M1151.20 566.70V574.10" stroke="#FF0000" stroke-width="2" fill="none"/>
<path d="M1119.43 603.70H1126.83M1123.13 600.00V607.40" stroke="#FF0000" stroke-width="2" fill="none"/>
<path d="M1097.64 621.50H1105.04M1101.34 617.80V625.20" stroke="#FF0000" stroke-width="2" fill="none"/>
<path d="M1092.19 625.50H1099.60M1095.89 621.80V629.20" stroke="#FF0000" stroke-width="2" fill="none"/>
<path d="M1090.10 629.50H1097.50M1093.80 625.80V633.20" stroke="#FF0000" stroke-width="2" fill="none"/>
<polyline points="1323.41,53.80 1231.65,91.60 1176.76,118.20 1185.56,140.00 1197.71,159.30 1160.84,182.20 1189.33,207.80 1210.70,240.60 1198.55,260.60 1215.31,280.00 1202.32,293.80 1202.32,317.00 1215.31,342.30 1193.94,352.20 1182.21,385.30 1180.95,404.60 1176.76,445.80 1169.22,469.50 1148.27,517.90 1168.80,535.50 1164.61,570.40 1127.74,603.70 1093.80,621.50 1089.61,625.50 1093.80,629.50" fill="none" stroke="#FFBF00" stroke-width="2" stroke-dasharray="8 6" stroke-dashoffset="4"/>
<path d="M1319.71 53.80H1327.11M1323.41 50.10V57.50" stroke="#FFBF00" stroke-width="2" fill="none"/>
<path d="M1227.95 91.60H1235.35M1231.65 87.90V95.30" stroke="#FFBF00" stroke-width="2" fill="none"/>
<path d="M1173.06 118.20H1180.46M1176.76 114.50V121.90" stroke="#FFBF00" stroke-width="2" fill="none"/>
<path d="M1181.86 140.00H1189.26M1185.56 136.30V143.70" stroke="#FFBF00" stroke-width="2" fill="none"/>
<path d="M1194.01 159.30H1201.41M1197.71 155.60V163.00" stroke="#FFBF00" stroke-width="2" fill="none"/>
<path d="M1157.14 182.20H1164.54M1160.84 178.50V185.90" stroke="#FFBF00" stroke-width="2" fill="none"/>
<path d="M1185.63 207.80H1193.03M1189.33 204.10V211.50" stroke="#FFBF00" stroke-width="2" fill="none"/>
<path d="M1207.00 240.60H1214.40M1210.70 236.90V244.30" stroke="#FFBF00" stroke-width="2" fill="none"/>
<path d="M1194.85 260.60H1202.25M1198.55 256.90V264.30" stroke="#FFBF00" stroke-width="2" fill="none"/>
<path d="M1211.61 280.00H1219.01M1215.31 276.30V283.70" stroke="#FFBF00" stroke-width="2" fill="none"/>
<path d="M1198.62 293.80H1206.02M1202.32 290.10V297.50" stroke="#FFBF00" stroke-width="2" fill="none"/>
<path d="M1198.62 317.00H1206.02M1202.32 313.30V320.70" stroke="#FFBF00" stroke-width="2" fill="none"/>
<path d="M1211.61 342.30H1219.01M1215.31 338.60V346.00" stroke="#FFBF00" stroke-width="2" fill="none"/>
<path d="M1190.24 352.20H1197.64M1193.94 348.50V355.90" stroke="#FFBF00" stroke-width="2" fill="none"/>
<path d="M1178.51 385.30H1185.91M1182.21 381.60V389.00" stroke="#FFBF00" stroke-width="2" fill="none"/>
<path d="M1177.25 404.60H1184.65M1180.95 400.90V408.30" stroke="#FFBF00" stroke-width="2" fill="none"/>
<path d="M1173.06 445.80H1180.46M1176.76 442.10V449.50" stroke="#FFBF00" stroke-width="2" fill="none"/>
<path d="M1165.52 469.50H1172.92M1169.22 465.80V473.20" stroke="#FFBF00" stroke-width="2" fill="none"/>
<path d="M1144.57 517.90H1151.97M1148.27 514.20V521.60" stroke="#FFBF00" stroke-width="2" fill="none"/>
<path d="M1165.10 535.50H1172.50M1168.80 531.80V539.20" stroke="#FFBF00" stroke-width="2" fill="none"/>
<path d="M1160.91 570.40H1168.31M1164.61 566.70V574.10" stroke="#FFBF00" stroke-width="2" fill="none"/>
<path d="M1124.04 603.70H1131.44M1127.74 600.00V607.40" stroke="#FFBF00" stroke-width="2" fill="none"/>
<path d="M1090.10 621.50H1097.50M1093.80 617.80V625.20" stroke="#FFBF00" stroke-width="2" fill="none"/>
<path d="M1085.91 625.50H1093.31M1089.61 621.80V629.20" stroke="#FFBF00" stroke-width="2" fill="none"/>
<path d="M1090.10 629.50H1097.50M1093.80 625.80V633.20" stroke="#FFBF00" stroke-width="2" fill="none"/>
<polyline points="1256.37,53.80 1168.80,91.60 1118.94,118.20 1131.51,140.00 1147.43,159.30 1122.71,182.20 1142.40,207.80 1168.80,240.60 1160.42,260.60 1148.27,280.00 1160.42,293.80 1160.42,317.00 1157.07,342.30 1164.19,352.20 1139.47,385.30 1139.47,404.60 1135.70,445.80 1122.71,469.50 1105.95,517.90 1118.10,535.50 1112.65,570.40 1077.04,603.70 1089.61,621.50 1103.02,625.50 1093.80,629.50" fill="none" stroke="#00FF33" stroke-width="2" stroke-dasharray="8 6" stroke-dashoffset="2"/>
<path d="M1252.67 53.80H1260.07M1256.37 50.10V57.50" stroke="#00FF33" stroke-width="2" fill="none"/>
<path d="M1165.10 91.60H1172.50M1168.80 87.90V95.30" stroke="#00FF33" stroke-width="2" fill="none"/>
<path d="M1115.24 118.20H1122.64M1118.94 114.50V121.90" stroke="#00FF33" stroke-width="2" fill="none"/>
<path d="M1127.81 140.00H1135.21M1131.51 136.30V143.70" stroke="#00FF33" stroke-width="2" fill="none"/>
<path d="M1143.73 159.30H1151.13M1147.43 155.60V163.00" stroke="#00FF33" stroke-width="2" fill="none"/>
<path d="M1119.01 182.20H1126.41M1122.71 178.50V185.90" stroke="#00FF33" stroke-width="2" fill="none"/>
<path d="M1138.70 207.80H1146.10M1142.40 204.10V211.50" stroke="#00FF33" stroke-width="2" fill="none"/>
<path d="M1165.10 240.60H1172.50M1168.80 236.90V244.30" stroke="#00FF33" stroke-width="2" fill="none"/>
<path d="M1156.72 260.60H1164.12M1160.42 256.90V264.30" stroke="#00FF33" stroke-width="2" fill="none"/>
<path d="M1144.57 280.00H1151.97M1148.27 276.30V283.70" stroke="#00FF33" stroke-width="2" fill="none"/>
<path d="M1156.72 293.80H1164.12M1160.42 290.10V297.50" stroke="#00FF33" stroke-width="2" fill="none"/>
<path d="M1156.72 317.00H1164.12M1160.42 313.30V320.70" stroke="#00FF33" stroke-width="2" fill="none"/>
<path d="M1153.37 342.30H1160.77M1157.07 338.60V346.00" stroke="#00FF33" stroke-width="2" fill="none"/>
<path d="M1160.49 352.20H1167.89M1164.19 348.50V355.90" stroke="#00FF33" stroke-width="2" fill="none"/>
<path d="M1135.77 385.30H1143.17M1139.47 381.60V389.00" stroke="#00FF33" stroke-width="2" fill="none"/>
<path d="M1135.77 404.60H1143.17M1139.47 400.90V408.30" stroke="#00FF33" stroke-width="2" fill="none"/>
<path d="M1132.00 445.80H1139.40M1135.70 442.10V449.50" stroke="#00FF33" stroke-width="2" fill="none"/>
<path d="M1119.01 469.50H1126.41M1122.71 465.80V473.20" stroke="#00FF33" stroke-width="2" fill="none"/>
<path d="M1102.25 517.90H1109.65M1105.95 514.20V521.60" stroke="#00FF33" stroke-width="2" fill="none"/>
<path d="M1114.40 535.50H1121.80M1118.10 531.80V539.20" stroke="#00FF33" stroke-width="2" fill="none"/>
<path d="M1108.95 570.40H1116.36M1112.65 566.70V574.10" stroke="#00FF33" stroke-width="2" fill="none"/>
<path d="M1073.34 603.70H1080.74M1077.04 600.00V607.40" stroke="#00FF33" stroke-width="2" fill="none"/>
<path d="M1085.91 621.50H1093.31M1089.61 617.80V625.20" stroke="#00FF33" stroke-width="2" fill="none"/>
<path d="M1099.32 625.50H1106.72M1103.02 621.80V629.20" stroke="#00FF33" stroke-width="2" fill="none"/>
<path d="M1090.10 629.50H1097.50M1093.80 625.80V633.20" stroke="#00FF33" stroke-width="2" fill="none"/>
<text x="1219.1" y="46.9" text-anchor="middle" font-family="'Liberation Sans', 'Noto Sans CJK TC', 'Noto Sans CJK SC', sans-serif" font-size="17.3">元長國小</text>
<text x="1219" y="683.5" text-anchor="middle" font-family="'Liberation Sans', 'Noto Sans CJK TC', 'Noto Sans CJK SC', sans-serif" font-size="17.5" textLength="214" lengthAdjust="spacingAndGlyphs">相對井底之累積壓縮量(cm)</text>
<text transform="translate(931.5,347.5) rotate(-90)" text-anchor="middle" font-family="'Liberation Sans', 'Noto Sans CJK TC', 'Noto Sans CJK SC', sans-serif" font-size="17.8" textLength="72" lengthAdjust="spacingAndGlyphs">深度 (m)</text>
<rect x="1347.8" y="444.2" width="112.2" height="186.6" fill="#fff" stroke="#7a7a7a" stroke-width="1.2"/>
<line x1="1352.5" y1="454.40" x2="1360" y2="454.40" stroke="#FF0000" stroke-width="2"/>
<line x1="1381" y1="454.40" x2="1388.6" y2="454.40" stroke="#FF0000" stroke-width="2"/>
<circle cx="1371.10" cy="454.40" r="4.4" fill="#FF0000"/>
<text x="1393.6" y="459.80" font-family="'Liberation Serif', 'Times New Roman', serif" font-weight="bold" font-size="13.6" textLength="61.7" lengthAdjust="spacingAndGlyphs">2023/02/22</text>
<line x1="1352.5" y1="471.07" x2="1360" y2="471.07" stroke="#FFBF00" stroke-width="2"/>
<line x1="1381" y1="471.07" x2="1388.6" y2="471.07" stroke="#FFBF00" stroke-width="2"/>
<circle cx="1371.10" cy="471.07" r="4.4" fill="#FFBF00"/>
<text x="1393.6" y="476.47" font-family="'Liberation Serif', 'Times New Roman', serif" font-weight="bold" font-size="13.6" textLength="61.7" lengthAdjust="spacingAndGlyphs">2023/04/12</text>
<line x1="1352.5" y1="487.74" x2="1360" y2="487.74" stroke="#80FF00" stroke-width="2"/>
<line x1="1381" y1="487.74" x2="1388.6" y2="487.74" stroke="#80FF00" stroke-width="2"/>
<circle cx="1371.10" cy="487.74" r="4.4" fill="#80FF00"/>
<text x="1393.6" y="493.14" font-family="'Liberation Serif', 'Times New Roman', serif" font-weight="bold" font-size="13.6" textLength="61.7" lengthAdjust="spacingAndGlyphs">2023/06/14</text>
<line x1="1352.5" y1="504.41" x2="1360" y2="504.41" stroke="#00FF40" stroke-width="2"/>
<line x1="1381" y1="504.41" x2="1388.6" y2="504.41" stroke="#00FF40" stroke-width="2"/>
<circle cx="1371.10" cy="504.41" r="4.4" fill="#00FF40"/>
<text x="1393.6" y="509.81" font-family="'Liberation Serif', 'Times New Roman', serif" font-weight="bold" font-size="13.6" textLength="61.7" lengthAdjust="spacingAndGlyphs">2023/08/15</text>
<line x1="1352.5" y1="521.08" x2="1360" y2="521.08" stroke="#00FFFF" stroke-width="2"/>
<line x1="1381" y1="521.08" x2="1388.6" y2="521.08" stroke="#00FFFF" stroke-width="2"/>
<circle cx="1371.10" cy="521.08" r="4.4" fill="#00FFFF"/>
<text x="1393.6" y="526.48" font-family="'Liberation Serif', 'Times New Roman', serif" font-weight="bold" font-size="13.6" textLength="61.7" lengthAdjust="spacingAndGlyphs">2023/10/03</text>
<line x1="1352.5" y1="537.75" x2="1360" y2="537.75" stroke="#0040FF" stroke-width="2"/>
<line x1="1381" y1="537.75" x2="1388.6" y2="537.75" stroke="#0040FF" stroke-width="2"/>
<circle cx="1371.10" cy="537.75" r="4.4" fill="#0040FF"/>
<text x="1393.6" y="543.15" font-family="'Liberation Serif', 'Times New Roman', serif" font-weight="bold" font-size="13.6" textLength="61.7" lengthAdjust="spacingAndGlyphs">2023/12/12</text>
<line x1="1352.5" y1="554.42" x2="1360" y2="554.42" stroke="#8000FF" stroke-width="2"/>
<line x1="1381" y1="554.42" x2="1388.6" y2="554.42" stroke="#8000FF" stroke-width="2"/>
<circle cx="1371.10" cy="554.42" r="4.4" fill="#8000FF"/>
<text x="1393.6" y="559.82" font-family="'Liberation Serif', 'Times New Roman', serif" font-weight="bold" font-size="13.6" textLength="61.7" lengthAdjust="spacingAndGlyphs">2024/03/06</text>
<line x1="1352.5" y1="571.09" x2="1360" y2="571.09" stroke="#FF00BF" stroke-width="2"/>
<line x1="1381" y1="571.09" x2="1388.6" y2="571.09" stroke="#FF00BF" stroke-width="2"/>
<circle cx="1371.10" cy="571.09" r="4.4" fill="#FF00BF"/>
<text x="1393.6" y="576.49" font-family="'Liberation Serif', 'Times New Roman', serif" font-weight="bold" font-size="13.6" textLength="61.7" lengthAdjust="spacingAndGlyphs">2024/05/15</text>
<line x1="1352.5" y1="587.76" x2="1360" y2="587.76" stroke="#FF0000" stroke-width="2"/>
<line x1="1381" y1="587.76" x2="1388.6" y2="587.76" stroke="#FF0000" stroke-width="2"/>
<path d="M1367.40 587.76H1374.80M1371.10 584.06V591.46" stroke="#FF0000" stroke-width="2" fill="none"/>
<text x="1393.6" y="593.16" font-family="'Liberation Serif', 'Times New Roman', serif" font-weight="bold" font-size="13.6" textLength="61.7" lengthAdjust="spacingAndGlyphs">2024/07/10</text>
<line x1="1352.5" y1="604.43" x2="1360" y2="604.43" stroke="#FFBF00" stroke-width="2"/>
<line x1="1381" y1="604.43" x2="1388.6" y2="604.43" stroke="#FFBF00" stroke-width="2"/>
<path d="M1367.40 604.43H1374.80M1371.10 600.73V608.13" stroke="#FFBF00" stroke-width="2" fill="none"/>
<text x="1393.6" y="609.83" font-family="'Liberation Serif', 'Times New Roman', serif" font-weight="bold" font-size="13.6" textLength="61.7" lengthAdjust="spacingAndGlyphs">2024/09/04</text>
<line x1="1352.5" y1="621.10" x2="1360" y2="621.10" stroke="#80FF00" stroke-width="2"/>
<line x1="1381" y1="621.10" x2="1388.6" y2="621.10" stroke="#80FF00" stroke-width="2"/>
<path d="M1367.40 621.10H1374.80M1371.10 617.40V624.80" stroke="#80FF00" stroke-width="2" fill="none"/>
<text x="1393.6" y="626.50" font-family="'Liberation Serif', 'Times New Roman', serif" font-weight="bold" font-size="13.6" textLength="61.7" lengthAdjust="spacingAndGlyphs">2024/11/13</text>
<rect x="1217.2" y="532.2" width="125.6" height="99" fill="#fff" stroke="#7a7a7a" stroke-width="1.1"/>
<rect x="1219.3" y="534.3" width="33.8" height="17.8" fill="url(#pLB)" stroke="#555" stroke-width="0.8"/>
<text x="1255.2" y="547.50" font-family="'Liberation Serif', 'Noto Serif CJK TC', 'Noto Serif CJK SC', serif" font-weight="600" font-size="11.5" textLength="24.30" lengthAdjust="spacing" fill="#2a2a2a">礫石</text>
<rect x="1219.3" y="559.3" width="33.8" height="19.2" fill="url(#pLG)" stroke="#555" stroke-width="0.8"/>
<text x="1255.2" y="573.20" font-family="'Liberation Serif', 'Noto Serif CJK TC', 'Noto Serif CJK SC', serif" font-weight="600" font-size="11.5" textLength="48.60" lengthAdjust="spacing" fill="#2a2a2a">粗、中砂</text>
<rect x="1219.3" y="585.3" width="33.8" height="18.2" fill="url(#pLY)" stroke="#555" stroke-width="0.8"/>
<text x="1255.2" y="598.70" font-family="'Liberation Serif', 'Noto Serif CJK TC', 'Noto Serif CJK SC', serif" font-weight="600" font-size="11.5" textLength="60.75" lengthAdjust="spacing" fill="#2a2a2a">細、極細砂</text>
<rect x="1219.3" y="610.7" width="33.8" height="18.9" fill="url(#pLO)" stroke="#555" stroke-width="0.8"/>
<text x="1255.2" y="624.45" font-family="'Liberation Serif', 'Noto Serif CJK TC', 'Noto Serif CJK SC', serif" font-weight="600" font-size="11.5" textLength="85.05" lengthAdjust="spacing" fill="#2a2a2a">粉砂、泥、黏土</text>
</svg>
</body></html>
